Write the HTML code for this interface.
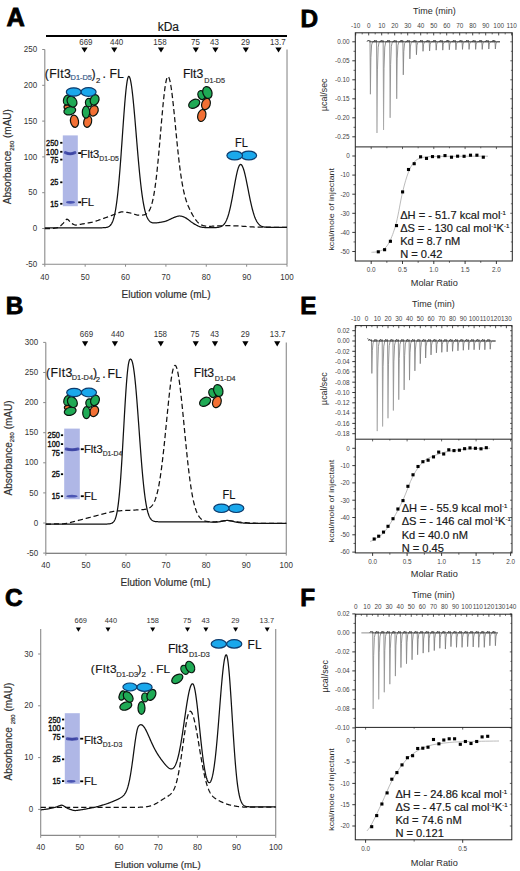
<!DOCTYPE html>
<html><head><meta charset="utf-8"><style>
html,body{margin:0;padding:0;background:#fff;}
svg{display:block;font-family:"Liberation Sans", sans-serif;}
svg text{stroke:#2a2a2a;stroke-width:0.18px;}
svg text.n{stroke:none;}
</style></head><body>
<svg width="520" height="871" viewBox="0 0 520 871">
<rect width="520" height="871" fill="#fff"/>
<line x1="44.8" y1="49.5" x2="44.8" y2="264.3" stroke="#8a8a8a" stroke-width="1.1" />
<line x1="44.8" y1="264.3" x2="287.02" y2="264.3" stroke="#8a8a8a" stroke-width="1.1" />
<line x1="287.02" y1="49.5" x2="287.02" y2="264.3" stroke="#8a8a8a" stroke-width="1.1" />
<line x1="42.2" y1="264.3" x2="44.8" y2="264.3" stroke="#8a8a8a" stroke-width="1" />
<text transform="translate(37.2,266.9) scale(0.92,1)" font-size="8.7" text-anchor="end" fill="#333" class="n">-50</text>
<line x1="42.2" y1="228.5" x2="44.8" y2="228.5" stroke="#8a8a8a" stroke-width="1" />
<text transform="translate(37.2,231.1) scale(0.92,1)" font-size="8.7" text-anchor="end" fill="#333" class="n">0</text>
<line x1="42.2" y1="192.7" x2="44.8" y2="192.7" stroke="#8a8a8a" stroke-width="1" />
<text transform="translate(37.2,195.3) scale(0.92,1)" font-size="8.7" text-anchor="end" fill="#333" class="n">50</text>
<line x1="42.2" y1="156.9" x2="44.8" y2="156.9" stroke="#8a8a8a" stroke-width="1" />
<text transform="translate(37.2,159.5) scale(0.92,1)" font-size="8.7" text-anchor="end" fill="#333" class="n">100</text>
<line x1="42.2" y1="121.1" x2="44.8" y2="121.1" stroke="#8a8a8a" stroke-width="1" />
<text transform="translate(37.2,123.7) scale(0.92,1)" font-size="8.7" text-anchor="end" fill="#333" class="n">150</text>
<line x1="42.2" y1="85.3" x2="44.8" y2="85.3" stroke="#8a8a8a" stroke-width="1" />
<text transform="translate(37.2,87.9) scale(0.92,1)" font-size="8.7" text-anchor="end" fill="#333" class="n">200</text>
<line x1="42.2" y1="49.5" x2="44.8" y2="49.5" stroke="#8a8a8a" stroke-width="1" />
<text transform="translate(37.2,52.1) scale(0.92,1)" font-size="8.7" text-anchor="end" fill="#333" class="n">250</text>
<line x1="44.8" y1="264.3" x2="44.8" y2="266.7" stroke="#8a8a8a" stroke-width="1" />
<text transform="translate(44.8,279.6) scale(0.92,1)" font-size="8.7" text-anchor="middle" fill="#333" class="n">40</text>
<line x1="85.17" y1="264.3" x2="85.17" y2="266.7" stroke="#8a8a8a" stroke-width="1" />
<text transform="translate(85.17,279.6) scale(0.92,1)" font-size="8.7" text-anchor="middle" fill="#333" class="n">50</text>
<line x1="125.54" y1="264.3" x2="125.54" y2="266.7" stroke="#8a8a8a" stroke-width="1" />
<text transform="translate(125.54,279.6) scale(0.92,1)" font-size="8.7" text-anchor="middle" fill="#333" class="n">60</text>
<line x1="165.91" y1="264.3" x2="165.91" y2="266.7" stroke="#8a8a8a" stroke-width="1" />
<text transform="translate(165.91,279.6) scale(0.92,1)" font-size="8.7" text-anchor="middle" fill="#333" class="n">70</text>
<line x1="206.28" y1="264.3" x2="206.28" y2="266.7" stroke="#8a8a8a" stroke-width="1" />
<text transform="translate(206.28,279.6) scale(0.92,1)" font-size="8.7" text-anchor="middle" fill="#333" class="n">80</text>
<line x1="246.65" y1="264.3" x2="246.65" y2="266.7" stroke="#8a8a8a" stroke-width="1" />
<text transform="translate(246.65,279.6) scale(0.92,1)" font-size="8.7" text-anchor="middle" fill="#333" class="n">90</text>
<line x1="287.02" y1="264.3" x2="287.02" y2="266.7" stroke="#8a8a8a" stroke-width="1" />
<text transform="translate(287.02,279.6) scale(0.92,1)" font-size="8.7" text-anchor="middle" fill="#333" class="n">100</text>
<text transform="translate(85.9,45) scale(0.93,1)" font-size="8.6" text-anchor="middle" fill="#333" class="n">669</text>
<path d="M81.4,47.4 L87.6,47.4 L84.5,52.5 Z" fill="#000"/>
<text transform="translate(116.6,45) scale(0.93,1)" font-size="8.6" text-anchor="middle" fill="#333" class="n">440</text>
<path d="M111.2,47.4 L117.4,47.4 L114.3,52.5 Z" fill="#000"/>
<text transform="translate(160,45) scale(0.93,1)" font-size="8.6" text-anchor="middle" fill="#333" class="n">158</text>
<path d="M157.9,47.4 L164.1,47.4 L161,52.5 Z" fill="#000"/>
<text transform="translate(195.5,45) scale(0.93,1)" font-size="8.6" text-anchor="middle" fill="#333" class="n">75</text>
<path d="M192.7,47.4 L198.9,47.4 L195.8,52.5 Z" fill="#000"/>
<text transform="translate(214.5,45) scale(0.93,1)" font-size="8.6" text-anchor="middle" fill="#333" class="n">43</text>
<path d="M212.3,47.4 L218.5,47.4 L215.4,52.5 Z" fill="#000"/>
<text transform="translate(245.5,45) scale(0.93,1)" font-size="8.6" text-anchor="middle" fill="#333" class="n">29</text>
<path d="M242.7,47.4 L248.9,47.4 L245.8,52.5 Z" fill="#000"/>
<text transform="translate(277.8,45) scale(0.93,1)" font-size="8.6" text-anchor="middle" fill="#333" class="n">13.7</text>
<path d="M275.4,47.4 L281.6,47.4 L278.5,52.5 Z" fill="#000"/>
<path d="M44.8,227.78 L45.2,227.78 L45.61,227.78 L46.01,227.78 L46.41,227.78 L46.82,227.78 L47.22,227.78 L47.63,227.78 L48.03,227.78 L48.43,227.78 L48.84,227.78 L49.24,227.78 L49.64,227.78 L50.05,227.78 L50.45,227.78 L50.86,227.78 L51.26,227.78 L51.66,227.78 L52.07,227.78 L52.47,227.78 L52.87,227.78 L53.28,227.78 L53.68,227.78 L54.09,227.78 L54.49,227.78 L54.89,227.78 L55.3,227.78 L55.7,227.78 L56.1,227.78 L56.51,227.78 L56.91,227.78 L57.31,227.78 L57.72,227.78 L58.12,227.78 L58.53,227.78 L58.93,227.78 L59.33,227.78 L59.74,227.78 L60.14,227.78 L60.54,227.78 L60.95,227.78 L61.35,227.78 L61.76,227.78 L62.16,227.78 L62.56,227.78 L62.97,227.78 L63.37,227.78 L63.77,227.78 L64.18,227.78 L64.58,227.78 L64.99,227.78 L65.39,227.78 L65.79,227.78 L66.2,227.78 L66.6,227.78 L67,227.78 L67.41,227.78 L67.81,227.78 L68.21,227.78 L68.62,227.78 L69.02,227.78 L69.43,227.78 L69.83,227.78 L70.23,227.78 L70.64,227.78 L71.04,227.78 L71.44,227.78 L71.85,227.78 L72.25,227.78 L72.66,227.78 L73.06,227.78 L73.46,227.78 L73.87,227.78 L74.27,227.78 L74.67,227.78 L75.08,227.78 L75.48,227.78 L75.88,227.78 L76.29,227.78 L76.69,227.78 L77.1,227.78 L77.5,227.78 L77.9,227.78 L78.31,227.78 L78.71,227.78 L79.11,227.78 L79.52,227.78 L79.92,227.78 L80.33,227.78 L80.73,227.78 L81.13,227.78 L81.54,227.78 L81.94,227.78 L82.34,227.78 L82.75,227.78 L83.15,227.78 L83.56,227.78 L83.96,227.78 L84.36,227.78 L84.77,227.78 L85.17,227.78 L85.57,227.78 L85.98,227.78 L86.38,227.78 L86.78,227.78 L87.19,227.78 L87.59,227.78 L88,227.78 L88.4,227.78 L88.8,227.78 L89.21,227.78 L89.61,227.78 L90.01,227.78 L90.42,227.78 L90.82,227.78 L91.23,227.78 L91.63,227.78 L92.03,227.78 L92.44,227.78 L92.84,227.78 L93.24,227.78 L93.65,227.78 L94.05,227.78 L94.46,227.78 L94.86,227.78 L95.26,227.78 L95.67,227.78 L96.07,227.78 L96.47,227.78 L96.88,227.78 L97.28,227.78 L97.68,227.78 L98.09,227.78 L98.49,227.78 L98.9,227.78 L99.3,227.78 L99.7,227.78 L100.11,227.78 L100.51,227.78 L100.91,227.77 L101.32,227.77 L101.72,227.76 L102.13,227.76 L102.53,227.75 L102.93,227.74 L103.34,227.73 L103.74,227.71 L104.14,227.69 L104.55,227.66 L104.95,227.62 L105.36,227.58 L105.76,227.53 L106.16,227.47 L106.57,227.39 L106.97,227.29 L107.37,227.18 L107.78,227.04 L108.18,226.88 L108.58,226.68 L108.99,226.45 L109.39,226.17 L109.8,225.85 L110.2,225.47 L110.6,225.02 L111.01,224.5 L111.41,223.9 L111.81,223.2 L112.22,222.39 L112.62,221.47 L113.03,220.41 L113.43,219.21 L113.83,217.84 L114.24,216.3 L114.64,214.58 L115.04,212.65 L115.45,210.5 L115.85,208.13 L116.25,205.51 L116.66,202.64 L117.06,199.52 L117.47,196.12 L117.87,192.46 L118.27,188.53 L118.68,184.33 L119.08,179.87 L119.48,175.17 L119.89,170.23 L120.29,165.07 L120.7,159.73 L121.1,154.22 L121.5,148.58 L121.91,142.85 L122.31,137.06 L122.71,131.27 L123.12,125.51 L123.52,119.84 L123.93,114.31 L124.33,108.97 L124.73,103.87 L125.14,99.07 L125.54,94.62 L125.94,90.56 L126.35,86.94 L126.75,83.79 L127.15,81.16 L127.56,79.08 L127.96,77.57 L128.37,76.64 L128.77,76.31 L129.17,76.51 L129.58,77.14 L129.98,78.2 L130.38,79.68 L130.79,81.57 L131.19,83.85 L131.6,86.51 L132,89.52 L132.4,92.85 L132.81,96.47 L133.21,100.37 L133.61,104.5 L134.02,108.84 L134.42,113.35 L134.83,118 L135.23,122.76 L135.63,127.59 L136.04,132.47 L136.44,137.37 L136.84,142.24 L137.25,147.08 L137.65,151.85 L138.05,156.53 L138.46,161.1 L138.86,165.54 L139.27,169.84 L139.67,173.97 L140.07,177.93 L140.48,181.7 L140.88,185.29 L141.28,188.68 L141.69,191.88 L142.09,194.88 L142.5,197.67 L142.9,200.28 L143.3,202.69 L143.71,204.91 L144.11,206.96 L144.51,208.83 L144.92,210.54 L145.32,212.09 L145.73,213.49 L146.13,214.76 L146.53,215.89 L146.94,216.9 L147.34,217.8 L147.74,218.6 L148.15,219.3 L148.55,219.91 L148.95,220.45 L149.36,220.91 L149.76,221.31 L150.17,221.65 L150.57,221.94 L150.97,222.18 L151.38,222.38 L151.78,222.54 L152.18,222.67 L152.59,222.77 L152.99,222.85 L153.4,222.9 L153.8,222.94 L154.2,222.96 L154.61,222.97 L155.01,222.96 L155.41,222.94 L155.82,222.92 L156.22,222.88 L156.62,222.84 L157.03,222.8 L157.43,222.75 L157.84,222.69 L158.24,222.64 L158.64,222.58 L159.05,222.52 L159.45,222.45 L159.85,222.39 L160.26,222.32 L160.66,222.25 L161.07,222.18 L161.47,222.11 L161.87,222.04 L162.28,221.97 L162.68,221.89 L163.08,221.81 L163.49,221.73 L163.89,221.64 L164.3,221.55 L164.7,221.45 L165.1,221.34 L165.51,221.22 L165.91,221.09 L166.31,220.95 L166.72,220.8 L167.12,220.64 L167.52,220.47 L167.93,220.29 L168.33,220.11 L168.74,219.93 L169.14,219.74 L169.54,219.54 L169.95,219.35 L170.35,219.16 L170.75,218.97 L171.16,218.77 L171.56,218.59 L171.97,218.4 L172.37,218.22 L172.77,218.04 L173.18,217.86 L173.58,217.69 L173.98,217.52 L174.39,217.36 L174.79,217.2 L175.2,217.05 L175.6,216.9 L176,216.76 L176.41,216.62 L176.81,216.49 L177.21,216.37 L177.62,216.26 L178.02,216.17 L178.42,216.09 L178.83,216.03 L179.23,216 L179.64,215.99 L180.04,216 L180.44,216.03 L180.85,216.09 L181.25,216.17 L181.65,216.26 L182.06,216.37 L182.46,216.5 L182.87,216.63 L183.27,216.78 L183.67,216.94 L184.08,217.11 L184.48,217.28 L184.88,217.48 L185.29,217.68 L185.69,217.9 L186.09,218.13 L186.5,218.38 L186.9,218.64 L187.31,218.92 L187.71,219.21 L188.11,219.5 L188.52,219.81 L188.92,220.12 L189.32,220.43 L189.73,220.75 L190.13,221.06 L190.54,221.38 L190.94,221.68 L191.34,221.98 L191.75,222.27 L192.15,222.56 L192.55,222.83 L192.96,223.1 L193.36,223.36 L193.77,223.61 L194.17,223.86 L194.57,224.1 L194.98,224.33 L195.38,224.56 L195.78,224.79 L196.19,225.02 L196.59,225.24 L196.99,225.45 L197.4,225.66 L197.8,225.86 L198.21,226.05 L198.61,226.23 L199.01,226.4 L199.42,226.56 L199.82,226.7 L200.22,226.82 L200.63,226.93 L201.03,227.03 L201.44,227.12 L201.84,227.19 L202.24,227.26 L202.65,227.31 L203.05,227.36 L203.45,227.41 L203.86,227.45 L204.26,227.49 L204.67,227.52 L205.07,227.56 L205.47,227.58 L205.88,227.61 L206.28,227.63 L206.68,227.65 L207.09,227.67 L207.49,227.68 L207.89,227.69 L208.3,227.69 L208.7,227.7 L209.11,227.7 L209.51,227.71 L209.91,227.71 L210.32,227.71 L210.72,227.71 L211.12,227.71 L211.53,227.7 L211.93,227.7 L212.34,227.7 L212.74,227.69 L213.14,227.68 L213.55,227.67 L213.95,227.66 L214.35,227.65 L214.76,227.63 L215.16,227.61 L215.57,227.59 L215.97,227.56 L216.37,227.53 L216.78,227.49 L217.18,227.45 L217.58,227.4 L217.99,227.34 L218.39,227.27 L218.79,227.2 L219.2,227.11 L219.6,227.01 L220.01,226.89 L220.41,226.75 L220.81,226.6 L221.22,226.42 L221.62,226.21 L222.02,225.98 L222.43,225.71 L222.83,225.41 L223.24,225.06 L223.64,224.67 L224.04,224.23 L224.45,223.73 L224.85,223.17 L225.25,222.55 L225.66,221.85 L226.06,221.08 L226.46,220.23 L226.87,219.3 L227.27,218.27 L227.68,217.16 L228.08,215.94 L228.48,214.63 L228.89,213.22 L229.29,211.71 L229.69,210.11 L230.1,208.4 L230.5,206.6 L230.91,204.71 L231.31,202.74 L231.71,200.69 L232.12,198.58 L232.52,196.41 L232.92,194.19 L233.33,191.93 L233.73,189.66 L234.14,187.39 L234.54,185.13 L234.94,182.9 L235.35,180.72 L235.75,178.61 L236.15,176.57 L236.56,174.65 L236.96,172.84 L237.36,171.17 L237.77,169.66 L238.17,168.31 L238.58,167.15 L238.98,166.18 L239.38,165.41 L239.79,164.86 L240.19,164.53 L240.59,164.42 L241,164.51 L241.4,164.79 L241.81,165.24 L242.21,165.87 L242.61,166.68 L243.02,167.65 L243.42,168.77 L243.82,170.04 L244.23,171.45 L244.63,172.98 L245.04,174.63 L245.44,176.37 L245.84,178.2 L246.25,180.11 L246.65,182.07 L247.05,184.08 L247.46,186.12 L247.86,188.18 L248.26,190.24 L248.67,192.3 L249.07,194.34 L249.48,196.36 L249.88,198.33 L250.28,200.27 L250.69,202.14 L251.09,203.96 L251.49,205.71 L251.9,207.38 L252.3,208.98 L252.71,210.51 L253.11,211.95 L253.51,213.31 L253.92,214.59 L254.32,215.79 L254.72,216.9 L255.13,217.94 L255.53,218.9 L255.94,219.78 L256.34,220.6 L256.74,221.34 L257.15,222.02 L257.55,222.64 L257.95,223.2 L258.36,223.7 L258.76,224.16 L259.16,224.56 L259.57,224.93 L259.97,225.25 L260.38,225.54 L260.78,225.79 L261.18,226.02 L261.59,226.21 L261.99,226.39 L262.39,226.54 L262.8,226.67 L263.2,226.78 L263.61,226.88 L264.01,226.96 L264.41,227.04 L264.82,227.1 L265.22,227.15 L265.62,227.2 L266.03,227.23 L266.43,227.27 L266.83,227.29 L267.24,227.32 L267.64,227.34 L268.05,227.35 L268.45,227.37 L268.85,227.38 L269.26,227.39 L269.66,227.39 L270.06,227.4 L270.47,227.4 L270.87,227.41 L271.28,227.41 L271.68,227.42 L272.08,227.42 L272.49,227.42 L272.89,227.42 L273.29,227.42 L273.7,227.42 L274.1,227.42 L274.51,227.42 L274.91,227.42 L275.31,227.42 L275.72,227.43 L276.12,227.43 L276.52,227.43 L276.93,227.43 L277.33,227.43 L277.73,227.43 L278.14,227.43 L278.54,227.43 L278.95,227.43 L279.35,227.43 L279.75,227.43 L280.16,227.43 L280.56,227.43 L280.96,227.43 L281.37,227.43 L281.77,227.43 L282.18,227.43 L282.58,227.43 L282.98,227.43 L283.39,227.43 L283.79,227.43 L284.19,227.43 L284.6,227.43 L285,227.43 L285.41,227.43 L285.81,227.43 L286.21,227.43 L286.62,227.43 L287.02,227.43" stroke="#111" stroke-width="1.25" fill="none" stroke-linejoin="round"/>
<path d="M44.8,228.5 L45.2,228.5 L45.61,228.5 L46.01,228.5 L46.41,228.5 L46.82,228.5 L47.22,228.5 L47.63,228.5 L48.03,228.5 L48.43,228.5 L48.84,228.5 L49.24,228.5 L49.64,228.5 L50.05,228.5 L50.45,228.5 L50.86,228.5 L51.26,228.5 L51.66,228.49 L52.07,228.48 L52.47,228.46 L52.87,228.43 L53.28,228.39 L53.68,228.34 L54.09,228.28 L54.49,228.21 L54.89,228.14 L55.3,228.07 L55.7,228 L56.1,227.93 L56.51,227.85 L56.91,227.78 L57.31,227.69 L57.72,227.6 L58.12,227.47 L58.53,227.32 L58.93,227.11 L59.33,226.86 L59.74,226.56 L60.14,226.22 L60.54,225.86 L60.95,225.48 L61.35,225.1 L61.76,224.71 L62.16,224.31 L62.56,223.91 L62.97,223.49 L63.37,223.05 L63.77,222.58 L64.18,222.08 L64.58,221.56 L64.99,221.02 L65.39,220.5 L65.79,220.01 L66.2,219.61 L66.6,219.33 L67,219.21 L67.41,219.26 L67.81,219.48 L68.21,219.82 L68.62,220.24 L69.02,220.71 L69.43,221.19 L69.83,221.65 L70.23,222.09 L70.64,222.48 L71.04,222.83 L71.44,223.14 L71.85,223.42 L72.25,223.67 L72.66,223.9 L73.06,224.13 L73.46,224.35 L73.87,224.55 L74.27,224.73 L74.67,224.88 L75.08,224.98 L75.48,225.03 L75.88,225.05 L76.29,225.02 L76.69,224.97 L77.1,224.91 L77.5,224.85 L77.9,224.78 L78.31,224.71 L78.71,224.63 L79.11,224.56 L79.52,224.49 L79.92,224.42 L80.33,224.35 L80.73,224.28 L81.13,224.2 L81.54,224.13 L81.94,224.06 L82.34,223.99 L82.75,223.92 L83.15,223.85 L83.56,223.77 L83.96,223.7 L84.36,223.63 L84.77,223.56 L85.17,223.49 L85.57,223.42 L85.98,223.34 L86.38,223.27 L86.78,223.2 L87.19,223.13 L87.59,223.06 L88,222.99 L88.4,222.92 L88.8,222.84 L89.21,222.77 L89.61,222.7 L90.01,222.63 L90.42,222.56 L90.82,222.49 L91.23,222.41 L91.63,222.34 L92.03,222.26 L92.44,222.18 L92.84,222.09 L93.24,221.98 L93.65,221.87 L94.05,221.75 L94.46,221.62 L94.86,221.48 L95.26,221.34 L95.67,221.2 L96.07,221.05 L96.47,220.91 L96.88,220.77 L97.28,220.62 L97.68,220.48 L98.09,220.34 L98.49,220.19 L98.9,220.05 L99.3,219.91 L99.7,219.76 L100.11,219.62 L100.51,219.48 L100.91,219.34 L101.32,219.19 L101.72,219.05 L102.13,218.91 L102.53,218.76 L102.93,218.62 L103.34,218.48 L103.74,218.33 L104.14,218.19 L104.55,218.05 L104.95,217.9 L105.36,217.76 L105.76,217.62 L106.16,217.47 L106.57,217.33 L106.97,217.19 L107.37,217.04 L107.78,216.9 L108.18,216.76 L108.58,216.61 L108.99,216.46 L109.39,216.32 L109.8,216.17 L110.2,216.01 L110.6,215.86 L111.01,215.71 L111.41,215.55 L111.81,215.4 L112.22,215.24 L112.62,215.09 L113.03,214.93 L113.43,214.78 L113.83,214.62 L114.24,214.47 L114.64,214.31 L115.04,214.16 L115.45,214 L115.85,213.85 L116.25,213.69 L116.66,213.54 L117.06,213.38 L117.47,213.23 L117.87,213.07 L118.27,212.92 L118.68,212.76 L119.08,212.61 L119.48,212.45 L119.89,212.31 L120.29,212.17 L120.7,212.05 L121.1,211.95 L121.5,211.88 L121.91,211.85 L122.31,211.84 L122.71,211.86 L123.12,211.9 L123.52,211.95 L123.93,212 L124.33,212.05 L124.73,212.1 L125.14,212.16 L125.54,212.21 L125.94,212.26 L126.35,212.32 L126.75,212.37 L127.15,212.43 L127.56,212.48 L127.96,212.54 L128.37,212.6 L128.77,212.66 L129.17,212.74 L129.58,212.82 L129.98,212.91 L130.38,213.02 L130.79,213.13 L131.19,213.25 L131.6,213.38 L132,213.5 L132.4,213.62 L132.81,213.75 L133.21,213.87 L133.61,214 L134.02,214.12 L134.42,214.25 L134.83,214.37 L135.23,214.5 L135.63,214.62 L136.04,214.74 L136.44,214.85 L136.84,214.96 L137.25,215.05 L137.65,215.12 L138.05,215.17 L138.46,215.21 L138.86,215.23 L139.27,215.24 L139.67,215.24 L140.07,215.24 L140.48,215.23 L140.88,215.22 L141.28,215.2 L141.69,215.18 L142.09,215.15 L142.5,215.1 L142.9,215.05 L143.3,214.99 L143.71,214.91 L144.11,214.82 L144.51,214.71 L144.92,214.58 L145.32,214.42 L145.73,214.23 L146.13,214.01 L146.53,213.75 L146.94,213.45 L147.34,213.1 L147.74,212.7 L148.15,212.23 L148.55,211.7 L148.95,211.1 L149.36,210.42 L149.76,209.65 L150.17,208.78 L150.57,207.81 L150.97,206.72 L151.38,205.51 L151.78,204.17 L152.18,202.68 L152.59,201.04 L152.99,199.24 L153.4,197.27 L153.8,195.13 L154.2,192.8 L154.61,190.29 L155.01,187.58 L155.41,184.68 L155.82,181.59 L156.22,178.3 L156.62,174.82 L157.03,171.15 L157.43,167.31 L157.84,163.29 L158.24,159.11 L158.64,154.79 L159.05,150.34 L159.45,145.78 L159.85,141.13 L160.26,136.43 L160.66,131.69 L161.07,126.96 L161.47,122.26 L161.87,117.64 L162.28,113.12 L162.68,108.74 L163.08,104.53 L163.49,100.52 L163.89,96.72 L164.3,93.17 L164.7,89.9 L165.1,86.94 L165.51,84.31 L165.91,82.03 L166.31,80.13 L166.72,78.62 L167.12,77.52 L167.52,76.83 L167.93,76.57 L168.33,76.72 L168.74,77.24 L169.14,78.11 L169.54,79.33 L169.95,80.9 L170.35,82.8 L170.75,85.01 L171.16,87.52 L171.56,90.3 L171.97,93.33 L172.37,96.6 L172.77,100.06 L173.18,103.71 L173.58,107.5 L173.98,111.43 L174.39,115.45 L174.79,119.54 L175.2,123.69 L175.6,127.85 L176,132.02 L176.41,136.16 L176.81,140.26 L177.21,144.28 L177.62,148.22 L178.02,152.04 L178.42,155.74 L178.83,159.31 L179.23,162.74 L179.64,166.02 L180.04,169.16 L180.44,172.15 L180.85,175 L181.25,177.7 L181.65,180.26 L182.06,182.67 L182.46,184.95 L182.87,187.1 L183.27,189.12 L183.67,191.02 L184.08,192.81 L184.48,194.49 L184.88,196.08 L185.29,197.56 L185.69,198.95 L186.09,200.26 L186.5,201.48 L186.9,202.64 L187.31,203.72 L187.71,204.76 L188.11,205.75 L188.52,206.7 L188.92,207.61 L189.32,208.5 L189.73,209.36 L190.13,210.2 L190.54,211.02 L190.94,211.81 L191.34,212.59 L191.75,213.35 L192.15,214.09 L192.55,214.82 L192.96,215.52 L193.36,216.21 L193.77,216.87 L194.17,217.52 L194.57,218.14 L194.98,218.74 L195.38,219.32 L195.78,219.88 L196.19,220.41 L196.59,220.91 L196.99,221.39 L197.4,221.85 L197.8,222.27 L198.21,222.67 L198.61,223.03 L199.01,223.37 L199.42,223.69 L199.82,223.97 L200.22,224.24 L200.63,224.48 L201.03,224.7 L201.44,224.9 L201.84,225.08 L202.24,225.25 L202.65,225.39 L203.05,225.52 L203.45,225.64 L203.86,225.74 L204.26,225.84 L204.67,225.91 L205.07,225.98 L205.47,226.04 L205.88,226.09 L206.28,226.14 L206.68,226.17 L207.09,226.2 L207.49,226.23 L207.89,226.25 L208.3,226.26 L208.7,226.27 L209.11,226.28 L209.51,226.29 L209.91,226.29 L210.32,226.28 L210.72,226.27 L211.12,226.26 L211.53,226.25 L211.93,226.24 L212.34,226.22 L212.74,226.2 L213.14,226.19 L213.55,226.17 L213.95,226.15 L214.35,226.13 L214.76,226.11 L215.16,226.09 L215.57,226.07 L215.97,226.05 L216.37,226.03 L216.78,226.01 L217.18,225.99 L217.58,225.96 L217.99,225.94 L218.39,225.92 L218.79,225.9 L219.2,225.88 L219.6,225.86 L220.01,225.84 L220.41,225.81 L220.81,225.79 L221.22,225.77 L221.62,225.75 L222.02,225.73 L222.43,225.71 L222.83,225.69 L223.24,225.66 L223.64,225.64 L224.04,225.62 L224.45,225.6 L224.85,225.58 L225.25,225.56 L225.66,225.55 L226.06,225.54 L226.46,225.53 L226.87,225.53 L227.27,225.54 L227.68,225.55 L228.08,225.56 L228.48,225.58 L228.89,225.59 L229.29,225.61 L229.69,225.63 L230.1,225.64 L230.5,225.66 L230.91,225.68 L231.31,225.69 L231.71,225.71 L232.12,225.73 L232.52,225.74 L232.92,225.76 L233.33,225.78 L233.73,225.79 L234.14,225.81 L234.54,225.83 L234.94,225.84 L235.35,225.86 L235.75,225.88 L236.15,225.89 L236.56,225.91 L236.96,225.93 L237.36,225.95 L237.77,225.96 L238.17,225.98 L238.58,226 L238.98,226.03 L239.38,226.05 L239.79,226.08 L240.19,226.1 L240.59,226.13 L241,226.16 L241.4,226.18 L241.81,226.21 L242.21,226.24 L242.61,226.26 L243.02,226.29 L243.42,226.32 L243.82,226.34 L244.23,226.37 L244.63,226.4 L245.04,226.42 L245.44,226.45 L245.84,226.48 L246.25,226.5 L246.65,226.53 L247.05,226.56 L247.46,226.58 L247.86,226.61 L248.26,226.64 L248.67,226.67 L249.07,226.69 L249.48,226.72 L249.88,226.75 L250.28,226.77 L250.69,226.8 L251.09,226.83 L251.49,226.85 L251.9,226.88 L252.3,226.91 L252.71,226.93 L253.11,226.96 L253.51,226.98 L253.92,227.01 L254.32,227.03 L254.72,227.05 L255.13,227.06 L255.53,227.07 L255.94,227.08 L256.34,227.08 L256.74,227.09 L257.15,227.09 L257.55,227.1 L257.95,227.1 L258.36,227.11 L258.76,227.11 L259.16,227.12 L259.57,227.12 L259.97,227.13 L260.38,227.13 L260.78,227.14 L261.18,227.14 L261.59,227.14 L261.99,227.15 L262.39,227.15 L262.8,227.16 L263.2,227.16 L263.61,227.17 L264.01,227.17 L264.41,227.18 L264.82,227.18 L265.22,227.18 L265.62,227.19 L266.03,227.19 L266.43,227.2 L266.83,227.2 L267.24,227.21 L267.64,227.21 L268.05,227.22 L268.45,227.22 L268.85,227.22 L269.26,227.23 L269.66,227.23 L270.06,227.24 L270.47,227.24 L270.87,227.25 L271.28,227.25 L271.68,227.26 L272.08,227.26 L272.49,227.26 L272.89,227.27 L273.29,227.27 L273.7,227.28 L274.1,227.28 L274.51,227.29 L274.91,227.29 L275.31,227.3 L275.72,227.3 L276.12,227.31 L276.52,227.31 L276.93,227.31 L277.33,227.32 L277.73,227.32 L278.14,227.33 L278.54,227.33 L278.95,227.34 L279.35,227.34 L279.75,227.35 L280.16,227.35 L280.56,227.35 L280.96,227.36 L281.37,227.36 L281.77,227.37 L282.18,227.37 L282.58,227.38 L282.98,227.38 L283.39,227.39 L283.79,227.39 L284.19,227.39 L284.6,227.4 L285,227.4 L285.41,227.41 L285.81,227.41 L286.21,227.42 L286.62,227.42 L287.02,227.42" stroke="#111" stroke-width="1.25" fill="none" stroke-dasharray="5.2 2.9" stroke-linejoin="round"/>
<line x1="45.8" y1="342.4" x2="45.8" y2="553.2" stroke="#8a8a8a" stroke-width="1.1" />
<line x1="45.8" y1="553.2" x2="286.28" y2="553.2" stroke="#5a5a5a" stroke-width="1.1" />
<line x1="286.28" y1="342.4" x2="286.28" y2="553.2" stroke="#8a8a8a" stroke-width="1.1" />
<line x1="43.2" y1="553.1" x2="45.8" y2="553.1" stroke="#8a8a8a" stroke-width="1" />
<text transform="translate(38.2,555.7) scale(0.92,1)" font-size="8.7" text-anchor="end" fill="#333" class="n">-50</text>
<line x1="43.2" y1="523" x2="45.8" y2="523" stroke="#8a8a8a" stroke-width="1" />
<text transform="translate(38.2,525.6) scale(0.92,1)" font-size="8.7" text-anchor="end" fill="#333" class="n">0</text>
<line x1="43.2" y1="492.9" x2="45.8" y2="492.9" stroke="#8a8a8a" stroke-width="1" />
<text transform="translate(38.2,495.5) scale(0.92,1)" font-size="8.7" text-anchor="end" fill="#333" class="n">50</text>
<line x1="43.2" y1="462.8" x2="45.8" y2="462.8" stroke="#8a8a8a" stroke-width="1" />
<text transform="translate(38.2,465.4) scale(0.92,1)" font-size="8.7" text-anchor="end" fill="#333" class="n">100</text>
<line x1="43.2" y1="432.7" x2="45.8" y2="432.7" stroke="#8a8a8a" stroke-width="1" />
<text transform="translate(38.2,435.3) scale(0.92,1)" font-size="8.7" text-anchor="end" fill="#333" class="n">150</text>
<line x1="43.2" y1="402.6" x2="45.8" y2="402.6" stroke="#8a8a8a" stroke-width="1" />
<text transform="translate(38.2,405.2) scale(0.92,1)" font-size="8.7" text-anchor="end" fill="#333" class="n">200</text>
<line x1="43.2" y1="372.5" x2="45.8" y2="372.5" stroke="#8a8a8a" stroke-width="1" />
<text transform="translate(38.2,375.1) scale(0.92,1)" font-size="8.7" text-anchor="end" fill="#333" class="n">250</text>
<line x1="43.2" y1="342.4" x2="45.8" y2="342.4" stroke="#8a8a8a" stroke-width="1" />
<text transform="translate(38.2,345) scale(0.92,1)" font-size="8.7" text-anchor="end" fill="#333" class="n">300</text>
<line x1="45.8" y1="553.2" x2="45.8" y2="555.6" stroke="#8a8a8a" stroke-width="1" />
<text transform="translate(45.8,568.2) scale(0.92,1)" font-size="8.7" text-anchor="middle" fill="#333" class="n">40</text>
<line x1="85.88" y1="553.2" x2="85.88" y2="555.6" stroke="#8a8a8a" stroke-width="1" />
<text transform="translate(85.88,568.2) scale(0.92,1)" font-size="8.7" text-anchor="middle" fill="#333" class="n">50</text>
<line x1="125.96" y1="553.2" x2="125.96" y2="555.6" stroke="#8a8a8a" stroke-width="1" />
<text transform="translate(125.96,568.2) scale(0.92,1)" font-size="8.7" text-anchor="middle" fill="#333" class="n">60</text>
<line x1="166.04" y1="553.2" x2="166.04" y2="555.6" stroke="#8a8a8a" stroke-width="1" />
<text transform="translate(166.04,568.2) scale(0.92,1)" font-size="8.7" text-anchor="middle" fill="#333" class="n">70</text>
<line x1="206.12" y1="553.2" x2="206.12" y2="555.6" stroke="#8a8a8a" stroke-width="1" />
<text transform="translate(206.12,568.2) scale(0.92,1)" font-size="8.7" text-anchor="middle" fill="#333" class="n">80</text>
<line x1="246.2" y1="553.2" x2="246.2" y2="555.6" stroke="#8a8a8a" stroke-width="1" />
<text transform="translate(246.2,568.2) scale(0.92,1)" font-size="8.7" text-anchor="middle" fill="#333" class="n">90</text>
<line x1="286.28" y1="553.2" x2="286.28" y2="555.6" stroke="#8a8a8a" stroke-width="1" />
<text transform="translate(286.28,568.2) scale(0.92,1)" font-size="8.7" text-anchor="middle" fill="#333" class="n">100</text>
<text transform="translate(86.5,336.8) scale(0.93,1)" font-size="8.6" text-anchor="middle" fill="#333" class="n">669</text>
<path d="M82,341.3 L88.2,341.3 L85.1,346.4 Z" fill="#000"/>
<text transform="translate(117.6,336.8) scale(0.93,1)" font-size="8.6" text-anchor="middle" fill="#333" class="n">440</text>
<path d="M111.8,341.3 L118,341.3 L114.9,346.4 Z" fill="#000"/>
<text transform="translate(160.4,336.8) scale(0.93,1)" font-size="8.6" text-anchor="middle" fill="#333" class="n">158</text>
<path d="M157.7,341.3 L163.9,341.3 L160.8,346.4 Z" fill="#000"/>
<text transform="translate(195,336.8) scale(0.93,1)" font-size="8.6" text-anchor="middle" fill="#333" class="n">75</text>
<path d="M192.6,341.3 L198.8,341.3 L195.7,346.4 Z" fill="#000"/>
<text transform="translate(214.6,336.8) scale(0.93,1)" font-size="8.6" text-anchor="middle" fill="#333" class="n">43</text>
<path d="M211.9,341.3 L218.1,341.3 L215,346.4 Z" fill="#000"/>
<text transform="translate(245.3,336.8) scale(0.93,1)" font-size="8.6" text-anchor="middle" fill="#333" class="n">29</text>
<path d="M242.3,341.3 L248.5,341.3 L245.4,346.4 Z" fill="#000"/>
<text transform="translate(277.6,336.8) scale(0.93,1)" font-size="8.6" text-anchor="middle" fill="#333" class="n">13.7</text>
<path d="M274.1,341.3 L280.3,341.3 L277.2,346.4 Z" fill="#000"/>
<path d="M45.8,524.2 L46.2,524.2 L46.6,524.2 L47,524.2 L47.4,524.2 L47.8,524.2 L48.2,524.2 L48.61,524.2 L49.01,524.2 L49.41,524.2 L49.81,524.2 L50.21,524.2 L50.61,524.2 L51.01,524.2 L51.41,524.2 L51.81,524.2 L52.21,524.2 L52.61,524.2 L53.01,524.2 L53.42,524.2 L53.82,524.2 L54.22,524.2 L54.62,524.2 L55.02,524.2 L55.42,524.2 L55.82,524.2 L56.22,524.2 L56.62,524.2 L57.02,524.2 L57.42,524.2 L57.82,524.2 L58.22,524.2 L58.63,524.2 L59.03,524.2 L59.43,524.2 L59.83,524.2 L60.23,524.2 L60.63,524.2 L61.03,524.2 L61.43,524.2 L61.83,524.2 L62.23,524.2 L62.63,524.2 L63.03,524.2 L63.44,524.2 L63.84,524.2 L64.24,524.2 L64.64,524.2 L65.04,524.2 L65.44,524.2 L65.84,524.2 L66.24,524.2 L66.64,524.2 L67.04,524.2 L67.44,524.2 L67.84,524.2 L68.24,524.2 L68.65,524.2 L69.05,524.2 L69.45,524.2 L69.85,524.2 L70.25,524.2 L70.65,524.2 L71.05,524.2 L71.45,524.2 L71.85,524.2 L72.25,524.2 L72.65,524.2 L73.05,524.2 L73.46,524.2 L73.86,524.2 L74.26,524.2 L74.66,524.2 L75.06,524.2 L75.46,524.2 L75.86,524.2 L76.26,524.2 L76.66,524.2 L77.06,524.2 L77.46,524.2 L77.86,524.2 L78.26,524.2 L78.67,524.2 L79.07,524.2 L79.47,524.2 L79.87,524.2 L80.27,524.2 L80.67,524.2 L81.07,524.2 L81.47,524.2 L81.87,524.2 L82.27,524.2 L82.67,524.2 L83.07,524.2 L83.48,524.2 L83.88,524.2 L84.28,524.2 L84.68,524.2 L85.08,524.2 L85.48,524.2 L85.88,524.2 L86.28,524.2 L86.68,524.2 L87.08,524.2 L87.48,524.2 L87.88,524.2 L88.28,524.2 L88.69,524.2 L89.09,524.2 L89.49,524.2 L89.89,524.2 L90.29,524.2 L90.69,524.2 L91.09,524.2 L91.49,524.2 L91.89,524.2 L92.29,524.2 L92.69,524.2 L93.09,524.2 L93.5,524.2 L93.9,524.2 L94.3,524.2 L94.7,524.2 L95.1,524.2 L95.5,524.2 L95.9,524.2 L96.3,524.2 L96.7,524.2 L97.1,524.2 L97.5,524.2 L97.9,524.2 L98.3,524.2 L98.71,524.2 L99.11,524.2 L99.51,524.2 L99.91,524.2 L100.31,524.2 L100.71,524.2 L101.11,524.2 L101.51,524.19 L101.91,524.19 L102.31,524.19 L102.71,524.18 L103.11,524.17 L103.52,524.17 L103.92,524.16 L104.32,524.15 L104.72,524.13 L105.12,524.12 L105.52,524.1 L105.92,524.09 L106.32,524.07 L106.72,524.04 L107.12,524.02 L107.52,523.99 L107.92,523.95 L108.32,523.92 L108.73,523.88 L109.13,523.83 L109.53,523.77 L109.93,523.71 L110.33,523.63 L110.73,523.53 L111.13,523.42 L111.53,523.27 L111.93,523.1 L112.33,522.88 L112.73,522.62 L113.13,522.29 L113.54,521.88 L113.94,521.38 L114.34,520.78 L114.74,520.04 L115.14,519.16 L115.54,518.1 L115.94,516.84 L116.34,515.35 L116.74,513.61 L117.14,511.58 L117.54,509.25 L117.94,506.58 L118.34,503.55 L118.75,500.15 L119.15,496.35 L119.55,492.14 L119.95,487.52 L120.35,482.5 L120.75,477.08 L121.15,471.28 L121.55,465.14 L121.95,458.69 L122.35,451.97 L122.75,445.05 L123.15,437.97 L123.56,430.82 L123.96,423.66 L124.36,416.56 L124.76,409.61 L125.16,402.88 L125.56,396.45 L125.96,390.38 L126.36,384.75 L126.76,379.61 L127.16,375 L127.56,370.97 L127.96,367.53 L128.36,364.71 L128.77,362.5 L129.17,360.88 L129.57,359.81 L129.97,359.25 L130.37,359.1 L130.77,359.16 L131.17,359.45 L131.57,360.03 L131.97,360.92 L132.37,362.16 L132.77,363.76 L133.17,365.73 L133.58,368.07 L133.98,370.79 L134.38,373.86 L134.78,377.29 L135.18,381.06 L135.58,385.14 L135.98,389.52 L136.38,394.16 L136.78,399.03 L137.18,404.11 L137.58,409.36 L137.98,414.74 L138.38,420.22 L138.79,425.76 L139.19,431.31 L139.59,436.86 L139.99,442.36 L140.39,447.78 L140.79,453.09 L141.19,458.26 L141.59,463.27 L141.99,468.1 L142.39,472.72 L142.79,477.12 L143.19,481.29 L143.6,485.22 L144,488.9 L144.4,492.34 L144.8,495.53 L145.2,498.47 L145.6,501.17 L146,503.63 L146.4,505.87 L146.8,507.89 L147.2,509.71 L147.6,511.34 L148,512.79 L148.4,514.07 L148.81,515.2 L149.21,516.19 L149.61,517.05 L150.01,517.8 L150.41,518.45 L150.81,519 L151.21,519.48 L151.61,519.88 L152.01,520.22 L152.41,520.5 L152.81,520.74 L153.21,520.94 L153.62,521.11 L154.02,521.24 L154.42,521.35 L154.82,521.44 L155.22,521.52 L155.62,521.58 L156.02,521.62 L156.42,521.66 L156.82,521.69 L157.22,521.72 L157.62,521.73 L158.02,521.75 L158.42,521.76 L158.83,521.77 L159.23,521.78 L159.63,521.78 L160.03,521.78 L160.43,521.79 L160.83,521.79 L161.23,521.79 L161.63,521.79 L162.03,521.79 L162.43,521.79 L162.83,521.79 L163.23,521.8 L163.64,521.8 L164.04,521.8 L164.44,521.8 L164.84,521.8 L165.24,521.8 L165.64,521.8 L166.04,521.8 L166.44,521.8 L166.84,521.8 L167.24,521.8 L167.64,521.8 L168.04,521.8 L168.44,521.8 L168.85,521.8 L169.25,521.8 L169.65,521.8 L170.05,521.8 L170.45,521.8 L170.85,521.8 L171.25,521.8 L171.65,521.8 L172.05,521.8 L172.45,521.8 L172.85,521.8 L173.25,521.8 L173.66,521.8 L174.06,521.8 L174.46,521.8 L174.86,521.8 L175.26,521.8 L175.66,521.8 L176.06,521.8 L176.46,521.8 L176.86,521.8 L177.26,521.8 L177.66,521.8 L178.06,521.8 L178.46,521.8 L178.87,521.8 L179.27,521.8 L179.67,521.8 L180.07,521.8 L180.47,521.8 L180.87,521.8 L181.27,521.8 L181.67,521.8 L182.07,521.8 L182.47,521.8 L182.87,521.8 L183.27,521.8 L183.68,521.8 L184.08,521.8 L184.48,521.8 L184.88,521.8 L185.28,521.8 L185.68,521.8 L186.08,521.8 L186.48,521.8 L186.88,521.8 L187.28,521.8 L187.68,521.8 L188.08,521.8 L188.48,521.8 L188.89,521.8 L189.29,521.8 L189.69,521.8 L190.09,521.8 L190.49,521.8 L190.89,521.8 L191.29,521.8 L191.69,521.8 L192.09,521.8 L192.49,521.8 L192.89,521.8 L193.29,521.8 L193.7,521.8 L194.1,521.8 L194.5,521.8 L194.9,521.8 L195.3,521.8 L195.7,521.8 L196.1,521.8 L196.5,521.8 L196.9,521.8 L197.3,521.8 L197.7,521.8 L198.1,521.8 L198.5,521.8 L198.91,521.8 L199.31,521.8 L199.71,521.8 L200.11,521.8 L200.51,521.8 L200.91,521.8 L201.31,521.8 L201.71,521.8 L202.11,521.8 L202.51,521.81 L202.91,521.81 L203.31,521.81 L203.72,521.82 L204.12,521.82 L204.52,521.83 L204.92,521.83 L205.32,521.84 L205.72,521.85 L206.12,521.86 L206.52,521.87 L206.92,521.88 L207.32,521.89 L207.72,521.91 L208.12,521.92 L208.52,521.94 L208.93,521.95 L209.33,521.97 L209.73,521.99 L210.13,522 L210.53,522.02 L210.93,522.04 L211.33,522.05 L211.73,522.07 L212.13,522.09 L212.53,522.1 L212.93,522.11 L213.33,522.13 L213.74,522.14 L214.14,522.14 L214.54,522.15 L214.94,522.15 L215.34,522.14 L215.74,522.13 L216.14,522.12 L216.54,522.1 L216.94,522.07 L217.34,522.04 L217.74,522 L218.14,521.96 L218.54,521.91 L218.95,521.85 L219.35,521.78 L219.75,521.71 L220.15,521.64 L220.55,521.56 L220.95,521.47 L221.35,521.39 L221.75,521.3 L222.15,521.21 L222.55,521.12 L222.95,521.03 L223.35,520.94 L223.76,520.86 L224.16,520.78 L224.56,520.71 L224.96,520.64 L225.36,520.58 L225.76,520.54 L226.16,520.5 L226.56,520.47 L226.96,520.46 L227.36,520.46 L227.76,520.46 L228.16,520.49 L228.56,520.52 L228.97,520.56 L229.37,520.61 L229.77,520.67 L230.17,520.75 L230.57,520.82 L230.97,520.91 L231.37,521 L231.77,521.09 L232.17,521.19 L232.57,521.29 L232.97,521.39 L233.37,521.49 L233.78,521.58 L234.18,521.68 L234.58,521.78 L234.98,521.87 L235.38,521.96 L235.78,522.04 L236.18,522.12 L236.58,522.2 L236.98,522.27 L237.38,522.34 L237.78,522.4 L238.18,522.47 L238.58,522.52 L238.99,522.58 L239.39,522.63 L239.79,522.68 L240.19,522.72 L240.59,522.76 L240.99,522.8 L241.39,522.84 L241.79,522.88 L242.19,522.92 L242.59,522.95 L242.99,522.98 L243.39,523.01 L243.8,523.04 L244.2,523.07 L244.6,523.1 L245,523.12 L245.4,523.15 L245.8,523.17 L246.2,523.19 L246.6,523.2 L247,523.22 L247.4,523.23 L247.8,523.24 L248.2,523.25 L248.6,523.26 L249.01,523.27 L249.41,523.28 L249.81,523.28 L250.21,523.29 L250.61,523.29 L251.01,523.29 L251.41,523.29 L251.81,523.3 L252.21,523.3 L252.61,523.3 L253.01,523.3 L253.41,523.3 L253.82,523.3 L254.22,523.3 L254.62,523.3 L255.02,523.3 L255.42,523.3 L255.82,523.3 L256.22,523.3 L256.62,523.3 L257.02,523.3 L257.42,523.3 L257.82,523.3 L258.22,523.3 L258.62,523.3 L259.03,523.3 L259.43,523.3 L259.83,523.3 L260.23,523.3 L260.63,523.3 L261.03,523.3 L261.43,523.3 L261.83,523.3 L262.23,523.3 L262.63,523.3 L263.03,523.3 L263.43,523.3 L263.84,523.3 L264.24,523.3 L264.64,523.3 L265.04,523.3 L265.44,523.3 L265.84,523.3 L266.24,523.3 L266.64,523.3 L267.04,523.3 L267.44,523.3 L267.84,523.3 L268.24,523.3 L268.64,523.3 L269.05,523.3 L269.45,523.3 L269.85,523.3 L270.25,523.3 L270.65,523.3 L271.05,523.3 L271.45,523.3 L271.85,523.3 L272.25,523.3 L272.65,523.3 L273.05,523.3 L273.45,523.3 L273.86,523.3 L274.26,523.3 L274.66,523.3 L275.06,523.3 L275.46,523.3 L275.86,523.3 L276.26,523.3 L276.66,523.3 L277.06,523.3 L277.46,523.3 L277.86,523.3 L278.26,523.3 L278.66,523.3 L279.07,523.3 L279.47,523.3 L279.87,523.3 L280.27,523.3 L280.67,523.3 L281.07,523.3 L281.47,523.3 L281.87,523.3 L282.27,523.3 L282.67,523.3 L283.07,523.3 L283.47,523.3 L283.88,523.3 L284.28,523.3 L284.68,523.3 L285.08,523.3 L285.48,523.3 L285.88,523.3 L286.28,523.3" stroke="#111" stroke-width="1.25" fill="none" stroke-linejoin="round"/>
<path d="M45.8,524.05 L46.2,524.05 L46.6,524.04 L47,524.04 L47.4,524.04 L47.8,524.04 L48.2,524.03 L48.61,524.03 L49.01,524.03 L49.41,524.02 L49.81,524.02 L50.21,524.02 L50.61,524.01 L51.01,524.01 L51.41,524.01 L51.81,524 L52.21,524 L52.61,524 L53.01,524 L53.42,523.99 L53.82,523.99 L54.22,523.99 L54.62,523.98 L55.02,523.98 L55.42,523.98 L55.82,523.97 L56.22,523.97 L56.62,523.97 L57.02,523.96 L57.42,523.96 L57.82,523.95 L58.22,523.95 L58.63,523.95 L59.03,523.94 L59.43,523.93 L59.83,523.93 L60.23,523.92 L60.63,523.91 L61.03,523.89 L61.43,523.88 L61.83,523.86 L62.23,523.84 L62.63,523.81 L63.03,523.79 L63.44,523.75 L63.84,523.72 L64.24,523.68 L64.64,523.63 L65.04,523.58 L65.44,523.52 L65.84,523.46 L66.24,523.39 L66.64,523.32 L67.04,523.25 L67.44,523.17 L67.84,523.08 L68.24,522.99 L68.65,522.9 L69.05,522.81 L69.45,522.72 L69.85,522.62 L70.25,522.52 L70.65,522.42 L71.05,522.32 L71.45,522.21 L71.85,522.11 L72.25,522.01 L72.65,521.9 L73.05,521.8 L73.46,521.69 L73.86,521.59 L74.26,521.49 L74.66,521.38 L75.06,521.28 L75.46,521.17 L75.86,521.07 L76.26,520.96 L76.66,520.85 L77.06,520.75 L77.46,520.64 L77.86,520.54 L78.26,520.43 L78.67,520.33 L79.07,520.22 L79.47,520.12 L79.87,520.01 L80.27,519.91 L80.67,519.8 L81.07,519.7 L81.47,519.59 L81.87,519.49 L82.27,519.38 L82.67,519.28 L83.07,519.17 L83.48,519.07 L83.88,518.96 L84.28,518.86 L84.68,518.75 L85.08,518.65 L85.48,518.54 L85.88,518.44 L86.28,518.33 L86.68,518.23 L87.08,518.12 L87.48,518.02 L87.88,517.91 L88.28,517.81 L88.69,517.7 L89.09,517.6 L89.49,517.49 L89.89,517.39 L90.29,517.28 L90.69,517.18 L91.09,517.07 L91.49,516.97 L91.89,516.86 L92.29,516.76 L92.69,516.65 L93.09,516.55 L93.5,516.44 L93.9,516.34 L94.3,516.23 L94.7,516.13 L95.1,516.02 L95.5,515.92 L95.9,515.81 L96.3,515.7 L96.7,515.6 L97.1,515.49 L97.5,515.39 L97.9,515.28 L98.3,515.18 L98.71,515.07 L99.11,514.97 L99.51,514.86 L99.91,514.76 L100.31,514.65 L100.71,514.55 L101.11,514.44 L101.51,514.34 L101.91,514.23 L102.31,514.13 L102.71,514.02 L103.11,513.92 L103.52,513.81 L103.92,513.71 L104.32,513.6 L104.72,513.5 L105.12,513.39 L105.52,513.29 L105.92,513.18 L106.32,513.08 L106.72,512.98 L107.12,512.87 L107.52,512.77 L107.92,512.66 L108.32,512.56 L108.73,512.46 L109.13,512.36 L109.53,512.26 L109.93,512.17 L110.33,512.07 L110.73,511.98 L111.13,511.89 L111.53,511.8 L111.93,511.72 L112.33,511.63 L112.73,511.56 L113.13,511.48 L113.54,511.42 L113.94,511.35 L114.34,511.29 L114.74,511.23 L115.14,511.18 L115.54,511.13 L115.94,511.09 L116.34,511.05 L116.74,511.01 L117.14,510.97 L117.54,510.94 L117.94,510.91 L118.34,510.88 L118.75,510.85 L119.15,510.83 L119.55,510.8 L119.95,510.78 L120.35,510.76 L120.75,510.74 L121.15,510.71 L121.55,510.69 L121.95,510.67 L122.35,510.65 L122.75,510.63 L123.15,510.61 L123.56,510.59 L123.96,510.57 L124.36,510.55 L124.76,510.53 L125.16,510.51 L125.56,510.49 L125.96,510.47 L126.36,510.45 L126.76,510.43 L127.16,510.41 L127.56,510.38 L127.96,510.36 L128.36,510.34 L128.77,510.32 L129.17,510.3 L129.57,510.28 L129.97,510.26 L130.37,510.24 L130.77,510.22 L131.17,510.2 L131.57,510.19 L131.97,510.17 L132.37,510.15 L132.77,510.13 L133.17,510.11 L133.58,510.09 L133.98,510.07 L134.38,510.05 L134.78,510.04 L135.18,510.02 L135.58,510 L135.98,509.98 L136.38,509.97 L136.78,509.95 L137.18,509.93 L137.58,509.91 L137.98,509.9 L138.38,509.88 L138.79,509.86 L139.19,509.84 L139.59,509.82 L139.99,509.8 L140.39,509.78 L140.79,509.75 L141.19,509.73 L141.59,509.7 L141.99,509.67 L142.39,509.64 L142.79,509.6 L143.19,509.57 L143.6,509.52 L144,509.48 L144.4,509.43 L144.8,509.37 L145.2,509.3 L145.6,509.23 L146,509.15 L146.4,509.06 L146.8,508.96 L147.2,508.84 L147.6,508.71 L148,508.56 L148.4,508.4 L148.81,508.21 L149.21,508 L149.61,507.77 L150.01,507.5 L150.41,507.21 L150.81,506.88 L151.21,506.51 L151.61,506.09 L152.01,505.63 L152.41,505.12 L152.81,504.55 L153.21,503.91 L153.62,503.21 L154.02,502.44 L154.42,501.6 L154.82,500.67 L155.22,499.65 L155.62,498.53 L156.02,497.32 L156.42,496 L156.82,494.57 L157.22,493.02 L157.62,491.36 L158.02,489.57 L158.42,487.64 L158.83,485.59 L159.23,483.4 L159.63,481.07 L160.03,478.6 L160.43,475.99 L160.83,473.23 L161.23,470.34 L161.63,467.31 L162.03,464.14 L162.43,460.85 L162.83,457.43 L163.23,453.89 L163.64,450.24 L164.04,446.49 L164.44,442.66 L164.84,438.75 L165.24,434.77 L165.64,430.74 L166.04,426.68 L166.44,422.6 L166.84,418.52 L167.24,414.45 L167.64,410.42 L168.04,406.45 L168.44,402.54 L168.85,398.74 L169.25,395.04 L169.65,391.48 L170.05,388.07 L170.45,384.84 L170.85,381.79 L171.25,378.96 L171.65,376.36 L172.05,373.99 L172.45,371.89 L172.85,370.06 L173.25,368.51 L173.66,367.26 L174.06,366.32 L174.46,365.69 L174.86,365.37 L175.26,365.37 L175.66,365.68 L176.06,366.29 L176.46,367.18 L176.86,368.36 L177.26,369.82 L177.66,371.55 L178.06,373.54 L178.46,375.79 L178.87,378.27 L179.27,380.99 L179.67,383.92 L180.07,387.04 L180.47,390.35 L180.87,393.82 L181.27,397.45 L181.67,401.2 L182.07,405.06 L182.47,409.02 L182.87,413.06 L183.27,417.16 L183.68,421.29 L184.08,425.45 L184.48,429.62 L184.88,433.78 L185.28,437.91 L185.68,442.01 L186.08,446.05 L186.48,450.02 L186.88,453.92 L187.28,457.73 L187.68,461.45 L188.08,465.05 L188.48,468.55 L188.89,471.92 L189.29,475.16 L189.69,478.28 L190.09,481.26 L190.49,484.11 L190.89,486.82 L191.29,489.4 L191.69,491.83 L192.09,494.14 L192.49,496.31 L192.89,498.35 L193.29,500.26 L193.7,502.05 L194.1,503.73 L194.5,505.29 L194.9,506.74 L195.3,508.08 L195.7,509.33 L196.1,510.48 L196.5,511.54 L196.9,512.52 L197.3,513.42 L197.7,514.24 L198.1,515 L198.5,515.69 L198.91,516.31 L199.31,516.89 L199.71,517.41 L200.11,517.88 L200.51,518.31 L200.91,518.69 L201.31,519.04 L201.71,519.36 L202.11,519.64 L202.51,519.89 L202.91,520.12 L203.31,520.33 L203.72,520.51 L204.12,520.67 L204.52,520.82 L204.92,520.95 L205.32,521.06 L205.72,521.17 L206.12,521.26 L206.52,521.34 L206.92,521.41 L207.32,521.48 L207.72,521.54 L208.12,521.59 L208.52,521.64 L208.93,521.68 L209.33,521.72 L209.73,521.75 L210.13,521.78 L210.53,521.81 L210.93,521.83 L211.33,521.85 L211.73,521.86 L212.13,521.87 L212.53,521.87 L212.93,521.88 L213.33,521.87 L213.74,521.87 L214.14,521.85 L214.54,521.84 L214.94,521.82 L215.34,521.8 L215.74,521.77 L216.14,521.74 L216.54,521.71 L216.94,521.67 L217.34,521.63 L217.74,521.59 L218.14,521.55 L218.54,521.51 L218.95,521.46 L219.35,521.41 L219.75,521.37 L220.15,521.32 L220.55,521.27 L220.95,521.22 L221.35,521.17 L221.75,521.12 L222.15,521.08 L222.55,521.03 L222.95,520.98 L223.35,520.94 L223.76,520.9 L224.16,520.86 L224.56,520.82 L224.96,520.79 L225.36,520.76 L225.76,520.73 L226.16,520.71 L226.56,520.69 L226.96,520.68 L227.36,520.68 L227.76,520.68 L228.16,520.69 L228.56,520.7 L228.97,520.72 L229.37,520.74 L229.77,520.78 L230.17,520.81 L230.57,520.85 L230.97,520.9 L231.37,520.95 L231.77,521 L232.17,521.06 L232.57,521.12 L232.97,521.18 L233.37,521.24 L233.78,521.31 L234.18,521.37 L234.58,521.43 L234.98,521.5 L235.38,521.56 L235.78,521.62 L236.18,521.68 L236.58,521.74 L236.98,521.8 L237.38,521.86 L237.78,521.91 L238.18,521.96 L238.58,522.01 L238.99,522.06 L239.39,522.11 L239.79,522.15 L240.19,522.19 L240.59,522.23 L240.99,522.27 L241.39,522.31 L241.79,522.35 L242.19,522.38 L242.59,522.42 L242.99,522.45 L243.39,522.48 L243.8,522.51 L244.2,522.54 L244.6,522.58 L245,522.61 L245.4,522.64 L245.8,522.67 L246.2,522.7 L246.6,522.73 L247,522.76 L247.4,522.79 L247.8,522.82 L248.2,522.85 L248.6,522.88 L249.01,522.9 L249.41,522.93 L249.81,522.96 L250.21,522.99 L250.61,523.01 L251.01,523.04 L251.41,523.07 L251.81,523.09 L252.21,523.11 L252.61,523.13 L253.01,523.15 L253.41,523.17 L253.82,523.19 L254.22,523.2 L254.62,523.22 L255.02,523.23 L255.42,523.24 L255.82,523.25 L256.22,523.26 L256.62,523.27 L257.02,523.28 L257.42,523.28 L257.82,523.29 L258.22,523.29 L258.62,523.29 L259.03,523.29 L259.43,523.3 L259.83,523.3 L260.23,523.3 L260.63,523.3 L261.03,523.3 L261.43,523.3 L261.83,523.3 L262.23,523.3 L262.63,523.3 L263.03,523.3 L263.43,523.3 L263.84,523.3 L264.24,523.3 L264.64,523.3 L265.04,523.3 L265.44,523.3 L265.84,523.3 L266.24,523.3 L266.64,523.3 L267.04,523.3 L267.44,523.3 L267.84,523.3 L268.24,523.3 L268.64,523.3 L269.05,523.3 L269.45,523.3 L269.85,523.3 L270.25,523.3 L270.65,523.3 L271.05,523.3 L271.45,523.3 L271.85,523.3 L272.25,523.3 L272.65,523.3 L273.05,523.3 L273.45,523.3 L273.86,523.3 L274.26,523.3 L274.66,523.3 L275.06,523.3 L275.46,523.3 L275.86,523.3 L276.26,523.3 L276.66,523.3 L277.06,523.3 L277.46,523.3 L277.86,523.3 L278.26,523.3 L278.66,523.3 L279.07,523.3 L279.47,523.3 L279.87,523.3 L280.27,523.3 L280.67,523.3 L281.07,523.3 L281.47,523.3 L281.87,523.3 L282.27,523.3 L282.67,523.3 L283.07,523.3 L283.47,523.3 L283.88,523.3 L284.28,523.3 L284.68,523.3 L285.08,523.3 L285.48,523.3 L285.88,523.3 L286.28,523.3" stroke="#111" stroke-width="1.25" fill="none" stroke-dasharray="5.2 2.9" stroke-linejoin="round"/>
<line x1="40.7" y1="629" x2="40.7" y2="835.4" stroke="#8a8a8a" stroke-width="1.1" />
<line x1="40.7" y1="835.4" x2="275.72" y2="835.4" stroke="#8a8a8a" stroke-width="1.1" />
<line x1="275.72" y1="629" x2="275.72" y2="835.4" stroke="#8a8a8a" stroke-width="1.1" />
<line x1="38.1" y1="809.4" x2="40.7" y2="809.4" stroke="#8a8a8a" stroke-width="1" />
<text transform="translate(33.1,812) scale(0.92,1)" font-size="8.7" text-anchor="end" fill="#333" class="n">0</text>
<line x1="38.1" y1="757.6" x2="40.7" y2="757.6" stroke="#8a8a8a" stroke-width="1" />
<text transform="translate(33.1,760.2) scale(0.92,1)" font-size="8.7" text-anchor="end" fill="#333" class="n">10</text>
<line x1="38.1" y1="705.8" x2="40.7" y2="705.8" stroke="#8a8a8a" stroke-width="1" />
<text transform="translate(33.1,708.4) scale(0.92,1)" font-size="8.7" text-anchor="end" fill="#333" class="n">20</text>
<line x1="38.1" y1="654" x2="40.7" y2="654" stroke="#8a8a8a" stroke-width="1" />
<text transform="translate(33.1,656.6) scale(0.92,1)" font-size="8.7" text-anchor="end" fill="#333" class="n">30</text>
<line x1="40.7" y1="835.4" x2="40.7" y2="837.8" stroke="#8a8a8a" stroke-width="1" />
<text transform="translate(40.7,849.8) scale(0.92,1)" font-size="8.7" text-anchor="middle" fill="#333" class="n">40</text>
<line x1="79.87" y1="835.4" x2="79.87" y2="837.8" stroke="#8a8a8a" stroke-width="1" />
<text transform="translate(79.87,849.8) scale(0.92,1)" font-size="8.7" text-anchor="middle" fill="#333" class="n">50</text>
<line x1="119.04" y1="835.4" x2="119.04" y2="837.8" stroke="#8a8a8a" stroke-width="1" />
<text transform="translate(119.04,849.8) scale(0.92,1)" font-size="8.7" text-anchor="middle" fill="#333" class="n">60</text>
<line x1="158.21" y1="835.4" x2="158.21" y2="837.8" stroke="#8a8a8a" stroke-width="1" />
<text transform="translate(158.21,849.8) scale(0.92,1)" font-size="8.7" text-anchor="middle" fill="#333" class="n">70</text>
<line x1="197.38" y1="835.4" x2="197.38" y2="837.8" stroke="#8a8a8a" stroke-width="1" />
<text transform="translate(197.38,849.8) scale(0.92,1)" font-size="8.7" text-anchor="middle" fill="#333" class="n">80</text>
<line x1="236.55" y1="835.4" x2="236.55" y2="837.8" stroke="#8a8a8a" stroke-width="1" />
<text transform="translate(236.55,849.8) scale(0.92,1)" font-size="8.7" text-anchor="middle" fill="#333" class="n">90</text>
<line x1="275.72" y1="835.4" x2="275.72" y2="837.8" stroke="#8a8a8a" stroke-width="1" />
<text transform="translate(275.72,849.8) scale(0.92,1)" font-size="8.7" text-anchor="middle" fill="#333" class="n">100</text>
<text transform="translate(80.8,623.4) scale(0.93,1)" font-size="8.0" text-anchor="middle" fill="#333" class="n">669</text>
<path d="M75.9,627.4 L80.9,627.4 L78.4,631.8 Z" fill="#000"/>
<text transform="translate(110.9,623.4) scale(0.93,1)" font-size="8.0" text-anchor="middle" fill="#333" class="n">440</text>
<path d="M105.5,627.4 L110.5,627.4 L108,631.8 Z" fill="#000"/>
<text transform="translate(152.7,623.4) scale(0.93,1)" font-size="8.0" text-anchor="middle" fill="#333" class="n">158</text>
<path d="M150.2,627.4 L155.2,627.4 L152.7,631.8 Z" fill="#000"/>
<text transform="translate(187.2,623.4) scale(0.93,1)" font-size="8.0" text-anchor="middle" fill="#333" class="n">75</text>
<path d="M185,627.4 L190,627.4 L187.5,631.8 Z" fill="#000"/>
<text transform="translate(205.6,623.4) scale(0.93,1)" font-size="8.0" text-anchor="middle" fill="#333" class="n">43</text>
<path d="M203.4,627.4 L208.4,627.4 L205.9,631.8 Z" fill="#000"/>
<text transform="translate(235.3,623.4) scale(0.93,1)" font-size="8.0" text-anchor="middle" fill="#333" class="n">29</text>
<path d="M233.1,627.4 L238.1,627.4 L235.6,631.8 Z" fill="#000"/>
<text transform="translate(266.8,623.4) scale(0.93,1)" font-size="8.0" text-anchor="middle" fill="#333" class="n">13.7</text>
<path d="M264.7,627.4 L269.7,627.4 L267.2,631.8 Z" fill="#000"/>
<path d="M40.7,809.84 L41.09,809.81 L41.48,809.77 L41.88,809.74 L42.27,809.69 L42.66,809.65 L43.05,809.6 L43.44,809.55 L43.83,809.5 L44.23,809.45 L44.62,809.4 L45.01,809.35 L45.4,809.3 L45.79,809.24 L46.18,809.19 L46.58,809.13 L46.97,809.08 L47.36,809.02 L47.75,808.95 L48.14,808.89 L48.53,808.82 L48.93,808.75 L49.32,808.67 L49.71,808.59 L50.1,808.51 L50.49,808.42 L50.88,808.33 L51.28,808.24 L51.67,808.16 L52.06,808.07 L52.45,807.97 L52.84,807.88 L53.23,807.79 L53.63,807.7 L54.02,807.6 L54.41,807.51 L54.8,807.4 L55.19,807.3 L55.58,807.19 L55.98,807.07 L56.37,806.94 L56.76,806.8 L57.15,806.66 L57.54,806.51 L57.93,806.35 L58.33,806.19 L58.72,806.03 L59.11,805.87 L59.5,805.72 L59.89,805.57 L60.29,805.44 L60.68,805.34 L61.07,805.26 L61.46,805.22 L61.85,805.23 L62.24,805.28 L62.64,805.38 L63.03,805.53 L63.42,805.72 L63.81,805.95 L64.2,806.21 L64.59,806.48 L64.99,806.75 L65.38,807.03 L65.77,807.3 L66.16,807.56 L66.55,807.8 L66.94,808.02 L67.34,808.22 L67.73,808.41 L68.12,808.58 L68.51,808.74 L68.9,808.89 L69.29,809.04 L69.69,809.18 L70.08,809.31 L70.47,809.45 L70.86,809.58 L71.25,809.71 L71.64,809.84 L72.04,809.97 L72.43,810.09 L72.82,810.2 L73.21,810.29 L73.6,810.38 L73.99,810.44 L74.39,810.49 L74.78,810.52 L75.17,810.53 L75.56,810.52 L75.95,810.5 L76.34,810.47 L76.74,810.43 L77.13,810.38 L77.52,810.33 L77.91,810.27 L78.3,810.21 L78.69,810.16 L79.09,810.1 L79.48,810.04 L79.87,809.98 L80.26,809.92 L80.65,809.87 L81.05,809.81 L81.44,809.75 L81.83,809.69 L82.22,809.63 L82.61,809.57 L83,809.5 L83.4,809.44 L83.79,809.37 L84.18,809.31 L84.57,809.24 L84.96,809.17 L85.35,809.09 L85.75,809.02 L86.14,808.95 L86.53,808.87 L86.92,808.8 L87.31,808.72 L87.7,808.65 L88.1,808.57 L88.49,808.5 L88.88,808.42 L89.27,808.35 L89.66,808.27 L90.05,808.2 L90.45,808.12 L90.84,808.05 L91.23,807.97 L91.62,807.9 L92.01,807.82 L92.4,807.74 L92.8,807.67 L93.19,807.59 L93.58,807.51 L93.97,807.44 L94.36,807.36 L94.75,807.27 L95.15,807.19 L95.54,807.1 L95.93,807 L96.32,806.9 L96.71,806.8 L97.1,806.7 L97.5,806.59 L97.89,806.48 L98.28,806.37 L98.67,806.25 L99.06,806.14 L99.46,806.02 L99.85,805.9 L100.24,805.79 L100.63,805.67 L101.02,805.55 L101.41,805.44 L101.81,805.32 L102.2,805.2 L102.59,805.09 L102.98,804.97 L103.37,804.85 L103.76,804.73 L104.16,804.62 L104.55,804.5 L104.94,804.38 L105.33,804.26 L105.72,804.14 L106.11,804.01 L106.51,803.88 L106.9,803.75 L107.29,803.62 L107.68,803.48 L108.07,803.34 L108.46,803.2 L108.86,803.05 L109.25,802.9 L109.64,802.75 L110.03,802.6 L110.42,802.45 L110.81,802.29 L111.21,802.13 L111.6,801.98 L111.99,801.82 L112.38,801.66 L112.77,801.5 L113.16,801.34 L113.56,801.18 L113.95,801.02 L114.34,800.85 L114.73,800.69 L115.12,800.52 L115.51,800.35 L115.91,800.18 L116.3,800 L116.69,799.83 L117.08,799.65 L117.47,799.47 L117.86,799.28 L118.26,799.09 L118.65,798.9 L119.04,798.7 L119.43,798.49 L119.82,798.28 L120.22,798.05 L120.61,797.82 L121,797.57 L121.39,797.31 L121.78,797.03 L122.17,796.72 L122.57,796.4 L122.96,796.05 L123.35,795.67 L123.74,795.25 L124.13,794.79 L124.52,794.28 L124.92,793.72 L125.31,793.09 L125.7,792.39 L126.09,791.62 L126.48,790.75 L126.87,789.78 L127.27,788.71 L127.66,787.51 L128.05,786.19 L128.44,784.74 L128.83,783.14 L129.22,781.4 L129.62,779.51 L130.01,777.48 L130.4,775.3 L130.79,772.98 L131.18,770.52 L131.57,767.93 L131.97,765.23 L132.36,762.43 L132.75,759.55 L133.14,756.61 L133.53,753.63 L133.92,750.64 L134.32,747.67 L134.71,744.77 L135.1,741.95 L135.49,739.27 L135.88,736.74 L136.27,734.41 L136.67,732.31 L137.06,730.46 L137.45,728.89 L137.84,727.63 L138.23,726.68 L138.63,726.05 L139.02,725.62 L139.41,725.28 L139.8,725.02 L140.19,724.84 L140.58,724.74 L140.98,724.72 L141.37,724.78 L141.76,724.91 L142.15,725.11 L142.54,725.38 L142.93,725.72 L143.33,726.12 L143.72,726.58 L144.11,727.1 L144.5,727.67 L144.89,728.29 L145.28,728.96 L145.68,729.66 L146.07,730.41 L146.46,731.18 L146.85,731.98 L147.24,732.81 L147.63,733.66 L148.03,734.52 L148.42,735.4 L148.81,736.29 L149.2,737.18 L149.59,738.08 L149.98,738.98 L150.38,739.87 L150.77,740.76 L151.16,741.65 L151.55,742.52 L151.94,743.38 L152.33,744.23 L152.73,745.07 L153.12,745.89 L153.51,746.69 L153.9,747.48 L154.29,748.25 L154.68,749 L155.08,749.74 L155.47,750.46 L155.86,751.16 L156.25,751.84 L156.64,752.51 L157.03,753.17 L157.43,753.81 L157.82,754.43 L158.21,755.04 L158.6,755.64 L158.99,756.23 L159.39,756.81 L159.78,757.38 L160.17,757.94 L160.56,758.49 L160.95,759.04 L161.34,759.57 L161.74,760.1 L162.13,760.62 L162.52,761.14 L162.91,761.64 L163.3,762.14 L163.69,762.64 L164.09,763.12 L164.48,763.6 L164.87,764.07 L165.26,764.53 L165.65,764.98 L166.04,765.41 L166.44,765.84 L166.83,766.24 L167.22,766.63 L167.61,767 L168,767.34 L168.39,767.66 L168.79,767.95 L169.18,768.21 L169.57,768.44 L169.96,768.63 L170.35,768.77 L170.74,768.87 L171.14,768.92 L171.53,768.92 L171.92,768.86 L172.31,768.74 L172.7,768.55 L173.09,768.28 L173.49,767.95 L173.88,767.53 L174.27,767.03 L174.66,766.44 L175.05,765.76 L175.44,764.99 L175.84,764.11 L176.23,763.14 L176.62,762.06 L177.01,760.87 L177.4,759.57 L177.79,758.16 L178.19,756.65 L178.58,755.02 L178.97,753.29 L179.36,751.44 L179.75,749.49 L180.15,747.44 L180.54,745.29 L180.93,743.05 L181.32,740.72 L181.71,738.31 L182.1,735.83 L182.5,733.28 L182.89,730.67 L183.28,728.02 L183.67,725.34 L184.06,722.63 L184.45,719.91 L184.85,717.19 L185.24,714.49 L185.63,711.82 L186.02,709.19 L186.41,706.61 L186.8,704.11 L187.2,701.69 L187.59,699.38 L187.98,697.17 L188.37,695.1 L188.76,693.16 L189.15,691.38 L189.55,689.76 L189.94,688.31 L190.33,687.05 L190.72,685.99 L191.11,685.12 L191.5,684.46 L191.9,684.01 L192.29,683.78 L192.68,683.76 L193.07,684.03 L193.46,684.65 L193.85,685.61 L194.25,686.9 L194.64,688.52 L195.03,690.44 L195.42,692.66 L195.81,695.15 L196.2,697.88 L196.6,700.84 L196.99,704 L197.38,707.33 L197.77,710.81 L198.16,714.41 L198.56,718.09 L198.95,721.83 L199.34,725.61 L199.73,729.4 L200.12,733.17 L200.51,736.9 L200.91,740.57 L201.3,744.16 L201.69,747.65 L202.08,751.01 L202.47,754.25 L202.86,757.35 L203.26,760.29 L203.65,763.06 L204.04,765.67 L204.43,768.1 L204.82,770.35 L205.21,772.42 L205.61,774.29 L206,775.99 L206.39,777.49 L206.78,778.81 L207.17,779.93 L207.56,780.87 L207.96,781.62 L208.35,782.18 L208.74,782.55 L209.13,782.72 L209.52,782.7 L209.91,782.49 L210.31,782.08 L210.7,781.46 L211.09,780.64 L211.48,779.6 L211.87,778.35 L212.26,776.88 L212.66,775.18 L213.05,773.26 L213.44,771.09 L213.83,768.7 L214.22,766.06 L214.61,763.18 L215.01,760.07 L215.4,756.71 L215.79,753.13 L216.18,749.32 L216.57,745.3 L216.96,741.07 L217.36,736.65 L217.75,732.07 L218.14,727.34 L218.53,722.49 L218.92,717.56 L219.32,712.56 L219.71,707.54 L220.1,702.54 L220.49,697.6 L220.88,692.75 L221.27,688.04 L221.67,683.5 L222.06,679.18 L222.45,675.11 L222.84,671.32 L223.23,667.86 L223.62,664.74 L224.02,662.01 L224.41,659.68 L224.8,657.79 L225.19,656.35 L225.58,655.38 L225.97,654.89 L226.37,654.89 L226.76,655.47 L227.15,656.72 L227.54,658.62 L227.93,661.14 L228.32,664.27 L228.72,667.95 L229.11,672.15 L229.5,676.82 L229.89,681.91 L230.28,687.35 L230.67,693.09 L231.07,699.06 L231.46,705.21 L231.85,711.46 L232.24,717.75 L232.63,724.04 L233.02,730.26 L233.42,736.35 L233.81,742.29 L234.2,748.02 L234.59,753.51 L234.98,758.73 L235.37,763.66 L235.77,768.27 L236.16,772.55 L236.55,776.5 L236.94,780.11 L237.33,783.39 L237.73,786.35 L238.12,789.02 L238.51,791.39 L238.9,793.5 L239.29,795.37 L239.68,797.02 L240.08,798.47 L240.47,799.73 L240.86,800.83 L241.25,801.79 L241.64,802.61 L242.03,803.31 L242.43,803.91 L242.82,804.42 L243.21,804.86 L243.6,805.22 L243.99,805.52 L244.38,805.77 L244.78,805.98 L245.17,806.15 L245.56,806.29 L245.95,806.4 L246.34,806.49 L246.73,806.56 L247.13,806.61 L247.52,806.66 L247.91,806.69 L248.3,806.72 L248.69,806.74 L249.08,806.76 L249.48,806.77 L249.87,806.78 L250.26,806.79 L250.65,806.79 L251.04,806.8 L251.43,806.8 L251.83,806.8 L252.22,806.8 L252.61,806.81 L253,806.81 L253.39,806.81 L253.78,806.81 L254.18,806.81 L254.57,806.81 L254.96,806.81 L255.35,806.81 L255.74,806.81 L256.13,806.81 L256.53,806.81 L256.92,806.81 L257.31,806.81 L257.7,806.81 L258.09,806.81 L258.49,806.81 L258.88,806.81 L259.27,806.81 L259.66,806.81 L260.05,806.81 L260.44,806.81 L260.84,806.81 L261.23,806.81 L261.62,806.81 L262.01,806.81 L262.4,806.81 L262.79,806.81 L263.19,806.81 L263.58,806.81 L263.97,806.81 L264.36,806.81 L264.75,806.81 L265.14,806.81 L265.54,806.81 L265.93,806.81 L266.32,806.81 L266.71,806.81 L267.1,806.81 L267.49,806.81 L267.89,806.81 L268.28,806.81 L268.67,806.81 L269.06,806.81 L269.45,806.81 L269.84,806.81 L270.24,806.81 L270.63,806.81 L271.02,806.81 L271.41,806.81 L271.8,806.81 L272.19,806.81 L272.59,806.81 L272.98,806.81 L273.37,806.81 L273.76,806.81 L274.15,806.81 L274.54,806.81 L274.94,806.81 L275.33,806.81 L275.72,806.81" stroke="#111" stroke-width="1.25" fill="none" stroke-linejoin="round"/>
<path d="M40.7,807.33 L41.09,807.33 L41.48,807.33 L41.88,807.33 L42.27,807.33 L42.66,807.33 L43.05,807.33 L43.44,807.33 L43.83,807.33 L44.23,807.33 L44.62,807.33 L45.01,807.33 L45.4,807.33 L45.79,807.33 L46.18,807.33 L46.58,807.33 L46.97,807.33 L47.36,807.33 L47.75,807.33 L48.14,807.33 L48.53,807.33 L48.93,807.33 L49.32,807.33 L49.71,807.33 L50.1,807.33 L50.49,807.33 L50.88,807.33 L51.28,807.33 L51.67,807.33 L52.06,807.33 L52.45,807.33 L52.84,807.33 L53.23,807.33 L53.63,807.33 L54.02,807.33 L54.41,807.33 L54.8,807.33 L55.19,807.33 L55.58,807.33 L55.98,807.33 L56.37,807.33 L56.76,807.33 L57.15,807.33 L57.54,807.33 L57.93,807.33 L58.33,807.33 L58.72,807.33 L59.11,807.33 L59.5,807.33 L59.89,807.33 L60.29,807.33 L60.68,807.33 L61.07,807.33 L61.46,807.33 L61.85,807.33 L62.24,807.33 L62.64,807.33 L63.03,807.33 L63.42,807.33 L63.81,807.33 L64.2,807.33 L64.59,807.33 L64.99,807.33 L65.38,807.33 L65.77,807.33 L66.16,807.33 L66.55,807.33 L66.94,807.33 L67.34,807.33 L67.73,807.33 L68.12,807.33 L68.51,807.33 L68.9,807.33 L69.29,807.33 L69.69,807.33 L70.08,807.33 L70.47,807.33 L70.86,807.33 L71.25,807.33 L71.64,807.33 L72.04,807.33 L72.43,807.33 L72.82,807.33 L73.21,807.33 L73.6,807.33 L73.99,807.33 L74.39,807.33 L74.78,807.33 L75.17,807.33 L75.56,807.33 L75.95,807.33 L76.34,807.33 L76.74,807.33 L77.13,807.33 L77.52,807.33 L77.91,807.33 L78.3,807.33 L78.69,807.33 L79.09,807.33 L79.48,807.33 L79.87,807.33 L80.26,807.33 L80.65,807.33 L81.05,807.33 L81.44,807.33 L81.83,807.33 L82.22,807.33 L82.61,807.33 L83,807.33 L83.4,807.33 L83.79,807.33 L84.18,807.33 L84.57,807.33 L84.96,807.33 L85.35,807.33 L85.75,807.33 L86.14,807.33 L86.53,807.33 L86.92,807.33 L87.31,807.33 L87.7,807.33 L88.1,807.33 L88.49,807.33 L88.88,807.33 L89.27,807.33 L89.66,807.33 L90.05,807.33 L90.45,807.33 L90.84,807.33 L91.23,807.33 L91.62,807.33 L92.01,807.33 L92.4,807.33 L92.8,807.33 L93.19,807.33 L93.58,807.33 L93.97,807.33 L94.36,807.33 L94.75,807.33 L95.15,807.33 L95.54,807.33 L95.93,807.33 L96.32,807.33 L96.71,807.33 L97.1,807.33 L97.5,807.33 L97.89,807.33 L98.28,807.33 L98.67,807.33 L99.06,807.33 L99.46,807.33 L99.85,807.33 L100.24,807.33 L100.63,807.33 L101.02,807.33 L101.41,807.33 L101.81,807.33 L102.2,807.33 L102.59,807.33 L102.98,807.33 L103.37,807.33 L103.76,807.33 L104.16,807.33 L104.55,807.33 L104.94,807.33 L105.33,807.33 L105.72,807.33 L106.11,807.33 L106.51,807.33 L106.9,807.33 L107.29,807.33 L107.68,807.33 L108.07,807.33 L108.46,807.33 L108.86,807.33 L109.25,807.33 L109.64,807.33 L110.03,807.33 L110.42,807.33 L110.81,807.33 L111.21,807.33 L111.6,807.33 L111.99,807.33 L112.38,807.33 L112.77,807.33 L113.16,807.33 L113.56,807.33 L113.95,807.33 L114.34,807.33 L114.73,807.33 L115.12,807.33 L115.51,807.33 L115.91,807.33 L116.3,807.33 L116.69,807.33 L117.08,807.33 L117.47,807.33 L117.86,807.33 L118.26,807.33 L118.65,807.33 L119.04,807.33 L119.43,807.33 L119.82,807.33 L120.22,807.33 L120.61,807.33 L121,807.33 L121.39,807.33 L121.78,807.33 L122.17,807.33 L122.57,807.33 L122.96,807.33 L123.35,807.33 L123.74,807.33 L124.13,807.33 L124.52,807.33 L124.92,807.33 L125.31,807.33 L125.7,807.33 L126.09,807.33 L126.48,807.33 L126.87,807.33 L127.27,807.33 L127.66,807.33 L128.05,807.33 L128.44,807.33 L128.83,807.33 L129.22,807.33 L129.62,807.33 L130.01,807.33 L130.4,807.33 L130.79,807.32 L131.18,807.32 L131.57,807.32 L131.97,807.32 L132.36,807.32 L132.75,807.32 L133.14,807.32 L133.53,807.32 L133.92,807.32 L134.32,807.31 L134.71,807.31 L135.1,807.31 L135.49,807.31 L135.88,807.3 L136.27,807.3 L136.67,807.3 L137.06,807.29 L137.45,807.29 L137.84,807.28 L138.23,807.27 L138.63,807.27 L139.02,807.26 L139.41,807.25 L139.8,807.24 L140.19,807.23 L140.58,807.21 L140.98,807.2 L141.37,807.18 L141.76,807.16 L142.15,807.14 L142.54,807.12 L142.93,807.1 L143.33,807.07 L143.72,807.04 L144.11,807.01 L144.5,806.98 L144.89,806.94 L145.28,806.9 L145.68,806.85 L146.07,806.8 L146.46,806.75 L146.85,806.69 L147.24,806.63 L147.63,806.56 L148.03,806.49 L148.42,806.41 L148.81,806.32 L149.2,806.23 L149.59,806.14 L149.98,806.03 L150.38,805.93 L150.77,805.81 L151.16,805.69 L151.55,805.56 L151.94,805.42 L152.33,805.28 L152.73,805.13 L153.12,804.97 L153.51,804.8 L153.9,804.63 L154.29,804.45 L154.68,804.26 L155.08,804.06 L155.47,803.86 L155.86,803.65 L156.25,803.44 L156.64,803.22 L157.03,802.99 L157.43,802.76 L157.82,802.52 L158.21,802.28 L158.6,802.03 L158.99,801.78 L159.39,801.53 L159.78,801.27 L160.17,801.02 L160.56,800.76 L160.95,800.5 L161.34,800.25 L161.74,799.99 L162.13,799.73 L162.52,799.48 L162.91,799.23 L163.3,798.98 L163.69,798.73 L164.09,798.49 L164.48,798.24 L164.87,798.01 L165.26,797.77 L165.65,797.54 L166.04,797.3 L166.44,797.07 L166.83,796.84 L167.22,796.6 L167.61,796.36 L168,796.12 L168.39,795.87 L168.79,795.61 L169.18,795.33 L169.57,795.04 L169.96,794.73 L170.35,794.39 L170.74,794.03 L171.14,793.63 L171.53,793.2 L171.92,792.73 L172.31,792.2 L172.7,791.63 L173.09,791 L173.49,790.3 L173.88,789.53 L174.27,788.68 L174.66,787.76 L175.05,786.75 L175.44,785.64 L175.84,784.44 L176.23,783.14 L176.62,781.73 L177.01,780.22 L177.4,778.59 L177.79,776.85 L178.19,775 L178.58,773.04 L178.97,770.97 L179.36,768.79 L179.75,766.51 L180.15,764.13 L180.54,761.66 L180.93,759.11 L181.32,756.48 L181.71,753.8 L182.1,751.06 L182.5,748.29 L182.89,745.5 L183.28,742.7 L183.67,739.91 L184.06,737.16 L184.45,734.45 L184.85,731.81 L185.24,729.25 L185.63,726.79 L186.02,724.46 L186.41,722.26 L186.8,720.23 L187.2,718.36 L187.59,716.69 L187.98,715.22 L188.37,713.96 L188.76,712.94 L189.15,712.14 L189.55,711.59 L189.94,711.29 L190.33,711.24 L190.72,711.4 L191.11,711.72 L191.5,712.21 L191.9,712.87 L192.29,713.68 L192.68,714.65 L193.07,715.76 L193.46,717.02 L193.85,718.42 L194.25,719.94 L194.64,721.58 L195.03,723.34 L195.42,725.2 L195.81,727.15 L196.2,729.19 L196.6,731.3 L196.99,733.48 L197.38,735.72 L197.77,738 L198.16,740.31 L198.56,742.65 L198.95,745.01 L199.34,747.37 L199.73,749.74 L200.12,752.09 L200.51,754.42 L200.91,756.72 L201.3,758.99 L201.69,761.21 L202.08,763.39 L202.47,765.52 L202.86,767.58 L203.26,769.59 L203.65,771.52 L204.04,773.39 L204.43,775.18 L204.82,776.9 L205.21,778.54 L205.61,780.1 L206,781.58 L206.39,782.99 L206.78,784.32 L207.17,785.57 L207.56,786.74 L207.96,787.84 L208.35,788.87 L208.74,789.83 L209.13,790.72 L209.52,791.54 L209.91,792.3 L210.31,793.01 L210.7,793.66 L211.09,794.25 L211.48,794.8 L211.87,795.31 L212.26,795.77 L212.66,796.2 L213.05,796.6 L213.44,796.97 L213.83,797.31 L214.22,797.64 L214.61,797.94 L215.01,798.23 L215.4,798.5 L215.79,798.77 L216.18,799.02 L216.57,799.27 L216.96,799.51 L217.36,799.74 L217.75,799.97 L218.14,800.19 L218.53,800.41 L218.92,800.63 L219.32,800.84 L219.71,801.04 L220.1,801.24 L220.49,801.44 L220.88,801.63 L221.27,801.82 L221.67,802.01 L222.06,802.19 L222.45,802.37 L222.84,802.55 L223.23,802.72 L223.62,802.88 L224.02,803.05 L224.41,803.21 L224.8,803.36 L225.19,803.52 L225.58,803.66 L225.97,803.81 L226.37,803.95 L226.76,804.08 L227.15,804.21 L227.54,804.33 L227.93,804.45 L228.32,804.57 L228.72,804.68 L229.11,804.79 L229.5,804.89 L229.89,804.99 L230.28,805.08 L230.67,805.17 L231.07,805.26 L231.46,805.35 L231.85,805.43 L232.24,805.51 L232.63,805.59 L233.02,805.67 L233.42,805.74 L233.81,805.82 L234.2,805.89 L234.59,805.96 L234.98,806.04 L235.37,806.11 L235.77,806.18 L236.16,806.24 L236.55,806.31 L236.94,806.37 L237.33,806.44 L237.73,806.5 L238.12,806.56 L238.51,806.61 L238.9,806.66 L239.29,806.71 L239.68,806.76 L240.08,806.8 L240.47,806.84 L240.86,806.87 L241.25,806.9 L241.64,806.93 L242.03,806.95 L242.43,806.97 L242.82,806.99 L243.21,807.01 L243.6,807.02 L243.99,807.03 L244.38,807.04 L244.78,807.05 L245.17,807.05 L245.56,807.06 L245.95,807.06 L246.34,807.06 L246.73,807.06 L247.13,807.07 L247.52,807.07 L247.91,807.07 L248.3,807.07 L248.69,807.07 L249.08,807.07 L249.48,807.07 L249.87,807.07 L250.26,807.07 L250.65,807.07 L251.04,807.07 L251.43,807.07 L251.83,807.07 L252.22,807.07 L252.61,807.07 L253,807.07 L253.39,807.07 L253.78,807.07 L254.18,807.07 L254.57,807.07 L254.96,807.07 L255.35,807.07 L255.74,807.07 L256.13,807.07 L256.53,807.07 L256.92,807.07 L257.31,807.07 L257.7,807.07 L258.09,807.07 L258.49,807.07 L258.88,807.07 L259.27,807.07 L259.66,807.07 L260.05,807.07 L260.44,807.07 L260.84,807.07 L261.23,807.07 L261.62,807.07 L262.01,807.07 L262.4,807.07 L262.79,807.07 L263.19,807.07 L263.58,807.07 L263.97,807.07 L264.36,807.07 L264.75,807.07 L265.14,807.07 L265.54,807.07 L265.93,807.07 L266.32,807.07 L266.71,807.07 L267.1,807.07 L267.49,807.07 L267.89,807.07 L268.28,807.07 L268.67,807.07 L269.06,807.07 L269.45,807.07 L269.84,807.07 L270.24,807.07 L270.63,807.07 L271.02,807.07 L271.41,807.07 L271.8,807.07 L272.19,807.07 L272.59,807.07 L272.98,807.07 L273.37,807.07 L273.76,807.07 L274.15,807.07 L274.54,807.07 L274.94,807.07 L275.33,807.07 L275.72,807.07" stroke="#111" stroke-width="1.25" fill="none" stroke-dasharray="5.2 2.9" stroke-linejoin="round"/>
<line x1="46" y1="36" x2="287" y2="36" stroke="#000" stroke-width="2.2" />
<text x="168.3" y="31.3" font-size="12" text-anchor="middle" fill="#111" >kDa</text>
<text x="121.6" y="297.8" font-size="10" text-anchor="start" fill="#333" >Elution volume (mL)</text>
<text x="120.6" y="586.2" font-size="10" text-anchor="start" fill="#333" >Elution Volume (mL)</text>
<text x="114.6" y="867.8" font-size="9.7" text-anchor="start" fill="#333" >Elution volume (mL)</text>
<text transform="translate(11.2,156.6) rotate(-90)" font-size="10" text-anchor="middle" fill="#333">Absorbance<tspan font-size="6" dy="2.5">280</tspan><tspan dy="-2.5"> (mAU)</tspan></text>
<text transform="translate(11.8,448) rotate(-90)" font-size="10" text-anchor="middle" fill="#333">Absorbance<tspan font-size="6" dy="2.5">280</tspan><tspan dy="-2.5"> (mAU)</tspan></text>
<text transform="translate(12.2,731.6) rotate(-90)" font-size="10" text-anchor="middle" fill="#333">Absorbance <tspan font-size="6" dy="2.5">280</tspan><tspan dy="-2.5"> (mAU)</tspan></text>
<text x="6.4" y="25.8" font-size="25.4" text-anchor="start" fill="#000" font-weight="bold" style="stroke:#000;stroke-width:0.8px">A</text>
<text x="5.8" y="313.5" font-size="24.4" text-anchor="start" fill="#000" font-weight="bold" style="stroke:#000;stroke-width:0.8px">B</text>
<text x="4.9" y="606" font-size="24.4" text-anchor="start" fill="#000" font-weight="bold" style="stroke:#000;stroke-width:0.8px">C</text>
<text x="300.5" y="26.9" font-size="24.4" text-anchor="start" fill="#000" font-weight="bold" style="stroke:#000;stroke-width:0.8px">D</text>
<text x="300.2" y="313.6" font-size="24.4" text-anchor="start" fill="#000" font-weight="bold" style="stroke:#000;stroke-width:0.8px">E</text>
<text x="300.2" y="606.1" font-size="24.4" text-anchor="start" fill="#000" font-weight="bold" style="stroke:#000;stroke-width:0.8px">F</text>
<rect x="62.8" y="135.4" width="15" height="70.8" fill="#afb7e6"/>
<path d="M65.4,152.62 Q70.15,154.96 74.9,152.62" stroke="#4a52ae" stroke-width="3.0" stroke-linecap="round" fill="none"/>
<path d="M66.9,153.01 Q70.15,154.96 73.4,153.01" stroke="#3d45a3" stroke-width="1.7999999999999998" stroke-linecap="round" fill="none"/>
<ellipse cx="70.5" cy="202.3" rx="4.5" ry="1.35" fill="#4b56b4"/>
<text transform="translate(58.4,145.9) scale(0.84,1)" font-size="8.8" text-anchor="end" fill="#111" style="stroke:#111;stroke-width:0.4px">250</text>
<rect x="60.2" y="141.9" width="2.2" height="1.8" fill="#000"/>
<text transform="translate(58.4,154.9) scale(0.84,1)" font-size="8.8" text-anchor="end" fill="#111" style="stroke:#111;stroke-width:0.4px">100</text>
<rect x="60.2" y="150.9" width="2.2" height="1.8" fill="#000"/>
<text transform="translate(58.4,162.7) scale(0.84,1)" font-size="8.8" text-anchor="end" fill="#111" style="stroke:#111;stroke-width:0.4px">75</text>
<rect x="60.2" y="158.7" width="2.2" height="1.8" fill="#000"/>
<text transform="translate(58.4,185.4) scale(0.84,1)" font-size="8.8" text-anchor="end" fill="#111" style="stroke:#111;stroke-width:0.4px">25</text>
<rect x="60.2" y="181.4" width="2.2" height="1.8" fill="#000"/>
<text transform="translate(58.4,206.9) scale(0.84,1)" font-size="8.8" text-anchor="end" fill="#111" style="stroke:#111;stroke-width:0.4px">15</text>
<rect x="60.2" y="202.9" width="2.2" height="1.8" fill="#000"/>
<rect x="78.2" y="152.2" width="3.0" height="1.8" fill="#000"/>
<text x="80.6" y="157.7" font-size="11.2" fill="#111">Flt3<tspan font-size="6.8" dy="2.9" fill="#333">D1-D5</tspan></text>
<rect x="78.2" y="201.4" width="3.0" height="1.8" fill="#000"/>
<text x="81" y="205.7" font-size="11.2" text-anchor="start" fill="#111" >FL</text>
<rect x="64.2" y="428.6" width="15.6" height="70.6" fill="#afb7e6"/>
<path d="M66.2,449.02 Q72.1,450.46 78,449.02" stroke="#4a52ae" stroke-width="3.0" stroke-linecap="round" fill="none"/>
<path d="M67.7,449.26 Q72.1,450.46 76.5,449.26" stroke="#3d45a3" stroke-width="1.7999999999999998" stroke-linecap="round" fill="none"/>
<ellipse cx="71.95" cy="496.2" rx="5.75" ry="1.35" fill="#4b56b4"/>
<text transform="translate(59.9,438.3) scale(0.84,1)" font-size="8.8" text-anchor="end" fill="#111" style="stroke:#111;stroke-width:0.4px">250</text>
<rect x="60.9" y="434.3" width="2.2" height="1.8" fill="#000"/>
<text transform="translate(59.9,447.2) scale(0.84,1)" font-size="8.8" text-anchor="end" fill="#111" style="stroke:#111;stroke-width:0.4px">100</text>
<rect x="60.9" y="443.2" width="2.2" height="1.8" fill="#000"/>
<text transform="translate(59.9,455.8) scale(0.84,1)" font-size="8.8" text-anchor="end" fill="#111" style="stroke:#111;stroke-width:0.4px">75</text>
<rect x="60.9" y="451.8" width="2.2" height="1.8" fill="#000"/>
<text transform="translate(59.9,477.3) scale(0.84,1)" font-size="8.8" text-anchor="end" fill="#111" style="stroke:#111;stroke-width:0.4px">25</text>
<rect x="60.9" y="473.3" width="2.2" height="1.8" fill="#000"/>
<text transform="translate(59.9,499.3) scale(0.84,1)" font-size="8.8" text-anchor="end" fill="#111" style="stroke:#111;stroke-width:0.4px">15</text>
<rect x="60.9" y="495.3" width="2.2" height="1.8" fill="#000"/>
<rect x="80.8" y="448.3" width="3.0" height="1.8" fill="#000"/>
<text x="84" y="453" font-size="11.2" fill="#111">Flt3<tspan font-size="6.8" dy="2.9" fill="#333">D1-D4</tspan></text>
<rect x="80.8" y="495.3" width="3.0" height="1.8" fill="#000"/>
<text x="84" y="499.8" font-size="11.2" text-anchor="start" fill="#111" >FL</text>
<rect x="64.8" y="713.2" width="15" height="70.6" fill="#afb7e6"/>
<path d="M67.3,738.7 Q72.05,739.6 76.8,738.7" stroke="#4a52ae" stroke-width="3.0" stroke-linecap="round" fill="none"/>
<path d="M68.8,738.85 Q72.05,739.6 75.3,738.85" stroke="#3d45a3" stroke-width="1.7999999999999998" stroke-linecap="round" fill="none"/>
<ellipse cx="71.15" cy="781.3" rx="4.35" ry="1.35" fill="#4b56b4"/>
<text transform="translate(60.6,722.6) scale(0.84,1)" font-size="8.8" text-anchor="end" fill="#111" style="stroke:#111;stroke-width:0.4px">250</text>
<rect x="62" y="718.6" width="2.2" height="1.8" fill="#000"/>
<text transform="translate(60.6,731.4) scale(0.84,1)" font-size="8.8" text-anchor="end" fill="#111" style="stroke:#111;stroke-width:0.4px">100</text>
<rect x="62" y="727.4" width="2.2" height="1.8" fill="#000"/>
<text transform="translate(60.6,739.7) scale(0.84,1)" font-size="8.8" text-anchor="end" fill="#111" style="stroke:#111;stroke-width:0.4px">75</text>
<rect x="62" y="735.7" width="2.2" height="1.8" fill="#000"/>
<text transform="translate(60.6,762.4) scale(0.84,1)" font-size="8.8" text-anchor="end" fill="#111" style="stroke:#111;stroke-width:0.4px">25</text>
<rect x="62" y="758.4" width="2.2" height="1.8" fill="#000"/>
<text transform="translate(60.6,784.2) scale(0.84,1)" font-size="8.8" text-anchor="end" fill="#111" style="stroke:#111;stroke-width:0.4px">15</text>
<rect x="62" y="780.2" width="2.2" height="1.8" fill="#000"/>
<rect x="80.2" y="737.8" width="3.0" height="1.8" fill="#000"/>
<text x="84" y="743.8" font-size="11.2" fill="#111">Flt3<tspan font-size="6.8" dy="2.9" fill="#333">D1-D3</tspan></text>
<rect x="80.2" y="780.4" width="3.0" height="1.8" fill="#000"/>
<text x="84" y="785.4" font-size="11.2" text-anchor="start" fill="#111" >FL</text>
<ellipse cx="74.5" cy="121.2" rx="4" ry="6.2" fill="#f37034" stroke="#0a140e" stroke-width="1.2" transform="rotate(-10 74.5 121.2)"/>
<ellipse cx="67" cy="107" rx="3" ry="2.2" fill="#f37034" stroke="#0a140e" stroke-width="1.2"/>
<ellipse cx="69.8" cy="110.8" rx="6" ry="3.9" fill="#1faa55" stroke="#0a140e" stroke-width="1.2" transform="rotate(-15 69.8 110.8)"/>
<ellipse cx="67" cy="100" rx="3.5" ry="5" fill="#1faa55" stroke="#0a140e" stroke-width="1.2" transform="rotate(15 67 100)"/>
<ellipse cx="72" cy="101.6" rx="4.5" ry="5.8" fill="#1faa55" stroke="#0a140e" stroke-width="1.2" transform="rotate(-35 72 101.6)"/>
<ellipse cx="87.7" cy="121.6" rx="3.9" ry="5.8" fill="#f37034" stroke="#0a140e" stroke-width="1.2" transform="rotate(15 87.7 121.6)"/>
<ellipse cx="93.8" cy="110.8" rx="4.2" ry="5.4" fill="#f37034" stroke="#0a140e" stroke-width="1.2" transform="rotate(25 93.8 110.8)"/>
<ellipse cx="86" cy="112.2" rx="3.7" ry="6" fill="#1faa55" stroke="#0a140e" stroke-width="1.2"/>
<ellipse cx="88.9" cy="102.6" rx="3.5" ry="4.3" fill="#1faa55" stroke="#0a140e" stroke-width="1.2"/>
<ellipse cx="94.6" cy="99.9" rx="4.2" ry="5.4" fill="#1faa55" stroke="#0a140e" stroke-width="1.2" transform="rotate(25 94.6 99.9)"/>
<ellipse cx="88.5" cy="92" rx="7.6" ry="4.3" fill="#1aa8ec" stroke="#0d3c6e" stroke-width="1.2"/>
<ellipse cx="73.7" cy="92" rx="7.4" ry="4.2" fill="#1aa8ec" stroke="#0d3c6e" stroke-width="1.2"/>
<ellipse cx="67.4" cy="407.5" rx="3" ry="2.2" fill="#f37034" stroke="#0a140e" stroke-width="1.2"/>
<ellipse cx="70.2" cy="411.3" rx="6" ry="3.9" fill="#1faa55" stroke="#0a140e" stroke-width="1.2" transform="rotate(-15 70.2 411.3)"/>
<ellipse cx="67.4" cy="400.5" rx="3.5" ry="5" fill="#1faa55" stroke="#0a140e" stroke-width="1.2" transform="rotate(15 67.4 400.5)"/>
<ellipse cx="72.4" cy="402.1" rx="4.5" ry="5.8" fill="#1faa55" stroke="#0a140e" stroke-width="1.2" transform="rotate(-35 72.4 402.1)"/>
<ellipse cx="94.2" cy="411.3" rx="4.2" ry="5.4" fill="#f37034" stroke="#0a140e" stroke-width="1.2" transform="rotate(25 94.2 411.3)"/>
<ellipse cx="86.4" cy="412.7" rx="3.7" ry="6" fill="#1faa55" stroke="#0a140e" stroke-width="1.2"/>
<ellipse cx="89.3" cy="403.1" rx="3.5" ry="4.3" fill="#1faa55" stroke="#0a140e" stroke-width="1.2"/>
<ellipse cx="95" cy="400.4" rx="4.2" ry="5.4" fill="#1faa55" stroke="#0a140e" stroke-width="1.2" transform="rotate(25 95 400.4)"/>
<ellipse cx="88.9" cy="392.5" rx="7.6" ry="4.3" fill="#1aa8ec" stroke="#0d3c6e" stroke-width="1.2"/>
<ellipse cx="74.1" cy="392.5" rx="7.4" ry="4.2" fill="#1aa8ec" stroke="#0d3c6e" stroke-width="1.2"/>
<ellipse cx="201.8" cy="115.5" rx="4" ry="6.1" fill="#f37034" stroke="#0a140e" stroke-width="1.2" transform="rotate(15 201.8 115.5)"/>
<ellipse cx="206" cy="104" rx="4.2" ry="5.8" fill="#f37034" stroke="#0a140e" stroke-width="1.2" transform="rotate(20 206 104)"/>
<ellipse cx="194.2" cy="103.8" rx="6" ry="4" fill="#1faa55" stroke="#0a140e" stroke-width="1.2" transform="rotate(-30 194.2 103.8)"/>
<ellipse cx="201.5" cy="95.1" rx="3.5" ry="4.6" fill="#1faa55" stroke="#0a140e" stroke-width="1.2" transform="rotate(-20 201.5 95.1)"/>
<ellipse cx="207.4" cy="92.5" rx="4.5" ry="6.1" fill="#1faa55" stroke="#0a140e" stroke-width="1.2" transform="rotate(-20 207.4 92.5)"/>
<ellipse cx="216.9" cy="402" rx="4.2" ry="5.8" fill="#f37034" stroke="#0a140e" stroke-width="1.2" transform="rotate(20 216.9 402)"/>
<ellipse cx="205.1" cy="401.8" rx="6" ry="4" fill="#1faa55" stroke="#0a140e" stroke-width="1.2" transform="rotate(-30 205.1 401.8)"/>
<ellipse cx="212.4" cy="393.1" rx="3.5" ry="4.6" fill="#1faa55" stroke="#0a140e" stroke-width="1.2" transform="rotate(-20 212.4 393.1)"/>
<ellipse cx="218.3" cy="390.5" rx="4.5" ry="6.1" fill="#1faa55" stroke="#0a140e" stroke-width="1.2" transform="rotate(-20 218.3 390.5)"/>
<ellipse cx="248.8" cy="155.5" rx="7.8" ry="4.4" fill="#1aa8ec" stroke="#0d3c6e" stroke-width="1.2"/>
<ellipse cx="234.7" cy="155.5" rx="7.8" ry="4.4" fill="#1aa8ec" stroke="#0d3c6e" stroke-width="1.2"/>
<ellipse cx="236.2" cy="508.3" rx="7.6" ry="4.2" fill="#1aa8ec" stroke="#0d3c6e" stroke-width="1.2"/>
<ellipse cx="221.4" cy="508.3" rx="7.6" ry="4.2" fill="#1aa8ec" stroke="#0d3c6e" stroke-width="1.2"/>
<ellipse cx="234.2" cy="643.9" rx="7.6" ry="4.2" fill="#1aa8ec" stroke="#0d3c6e" stroke-width="1.2"/>
<ellipse cx="218.8" cy="643.9" rx="7.6" ry="4.2" fill="#1aa8ec" stroke="#0d3c6e" stroke-width="1.2"/>
<ellipse cx="125.8" cy="706" rx="6.2" ry="3.9" fill="#1faa55" stroke="#0a140e" stroke-width="1.2" transform="rotate(-20 125.8 706)"/>
<ellipse cx="122.2" cy="695.5" rx="2.8" ry="4.8" fill="#1faa55" stroke="#0a140e" stroke-width="1.2" transform="rotate(20 122.2 695.5)"/>
<ellipse cx="128.2" cy="696.9" rx="4" ry="6" fill="#1faa55" stroke="#0a140e" stroke-width="1.2" transform="rotate(-40 128.2 696.9)"/>
<ellipse cx="141.5" cy="708" rx="3.5" ry="6.3" fill="#1faa55" stroke="#0a140e" stroke-width="1.2"/>
<ellipse cx="144.9" cy="697.4" rx="3.2" ry="4.5" fill="#1faa55" stroke="#0a140e" stroke-width="1.2"/>
<ellipse cx="151.4" cy="694.9" rx="4" ry="5.8" fill="#1faa55" stroke="#0a140e" stroke-width="1.2" transform="rotate(30 151.4 694.9)"/>
<ellipse cx="144.5" cy="687.2" rx="7.6" ry="4.1" fill="#1aa8ec" stroke="#0d3c6e" stroke-width="1.2"/>
<ellipse cx="129.9" cy="687" rx="7" ry="4" fill="#1aa8ec" stroke="#0d3c6e" stroke-width="1.2"/>
<ellipse cx="177.3" cy="678.8" rx="6.2" ry="3.9" fill="#1faa55" stroke="#0a140e" stroke-width="1.2" transform="rotate(-35 177.3 678.8)"/>
<ellipse cx="184.7" cy="669.8" rx="3.5" ry="4.8" fill="#1faa55" stroke="#0a140e" stroke-width="1.2" transform="rotate(-30 184.7 669.8)"/>
<ellipse cx="190.2" cy="667" rx="4.2" ry="6" fill="#1faa55" stroke="#0a140e" stroke-width="1.2" transform="rotate(-25 190.2 667)"/>
<text y="77.8" font-size="12.3" fill="#111"><tspan x="44.7" letter-spacing="0.4">(Flt3</tspan><tspan x="70.6" y="80.4" font-size="7.4" fill="#3b6fb6">D1-D5</tspan><tspan x="91.5" y="77.8">)</tspan><tspan x="96" y="82.6" font-size="7.7">2</tspan><tspan x="102.5" y="78.2">.</tspan><tspan x="109.6">FL</tspan></text>
<text y="376.8" font-size="12.3" fill="#111"><tspan x="46.1" letter-spacing="0.4">(Flt3</tspan><tspan x="71.7" y="379.9" font-size="7.4" fill="#333">D1-D4</tspan><tspan x="93" y="376.8">)</tspan><tspan x="95.8" y="382.3" font-size="7.7">2</tspan><tspan x="102.3" y="378">.</tspan><tspan x="107.4">FL</tspan></text>
<text y="672.6" font-size="11.8" fill="#111"><tspan x="90.7" letter-spacing="0.6">(Flt3</tspan><tspan x="116.3" y="676.6" font-size="7.6" fill="#333">D1-D3</tspan><tspan x="137.6" y="672.6">)</tspan><tspan x="141.5" y="676.8" font-size="7.8999999999999995">2</tspan><tspan x="150.3" y="673.2">.</tspan><tspan x="156.3">FL</tspan></text>
<text x="182.9" y="77.5" font-size="12.2" fill="#111">Flt3<tspan x="204.2" y="82.5" font-size="7.2" fill="#333">D1-D5</tspan></text>
<text x="193.8" y="376.7" font-size="12.2" fill="#111">Flt3<tspan x="214.8" y="380.6" font-size="7.2" fill="#333">D1-D4</tspan></text>
<text x="167.9" y="652.9" font-size="12.2" fill="#111">Flt3<tspan x="188.9" y="656.7" font-size="7.2" fill="#333">D1-D3</tspan></text>
<text transform="translate(234.9,146.5) scale(0.88,1)" font-size="12.6" fill="#111">FL</text>
<text transform="translate(222.6,499.1) scale(0.88,1)" font-size="12.6" fill="#111">FL</text>
<text transform="translate(247.6,648.9) scale(0.95,1)" font-size="12.6" fill="#111">FL</text>
<rect x="355.3" y="32.8" width="157" height="228.2" fill="none" stroke="#222" stroke-width="1"/>
<line x1="355.3" y1="146.9" x2="512.3" y2="146.9" stroke="#222" stroke-width="1" />
<line x1="355.7" y1="32.8" x2="355.7" y2="35.4" stroke="#222" stroke-width="0.8" />
<text x="355.7" y="28" font-size="6.4" text-anchor="middle" fill="#444" class="n">-10</text>
<line x1="362.2" y1="32.8" x2="362.2" y2="34.4" stroke="#222" stroke-width="0.7" />
<line x1="368.7" y1="32.8" x2="368.7" y2="35.4" stroke="#222" stroke-width="0.8" />
<text x="368.7" y="28" font-size="6.4" text-anchor="middle" fill="#444" class="n">0</text>
<line x1="375.2" y1="32.8" x2="375.2" y2="34.4" stroke="#222" stroke-width="0.7" />
<line x1="381.7" y1="32.8" x2="381.7" y2="35.4" stroke="#222" stroke-width="0.8" />
<text x="381.7" y="28" font-size="6.4" text-anchor="middle" fill="#444" class="n">10</text>
<line x1="388.2" y1="32.8" x2="388.2" y2="34.4" stroke="#222" stroke-width="0.7" />
<line x1="394.7" y1="32.8" x2="394.7" y2="35.4" stroke="#222" stroke-width="0.8" />
<text x="394.7" y="28" font-size="6.4" text-anchor="middle" fill="#444" class="n">20</text>
<line x1="401.2" y1="32.8" x2="401.2" y2="34.4" stroke="#222" stroke-width="0.7" />
<line x1="407.7" y1="32.8" x2="407.7" y2="35.4" stroke="#222" stroke-width="0.8" />
<text x="407.7" y="28" font-size="6.4" text-anchor="middle" fill="#444" class="n">30</text>
<line x1="414.2" y1="32.8" x2="414.2" y2="34.4" stroke="#222" stroke-width="0.7" />
<line x1="420.7" y1="32.8" x2="420.7" y2="35.4" stroke="#222" stroke-width="0.8" />
<text x="420.7" y="28" font-size="6.4" text-anchor="middle" fill="#444" class="n">40</text>
<line x1="427.2" y1="32.8" x2="427.2" y2="34.4" stroke="#222" stroke-width="0.7" />
<line x1="433.7" y1="32.8" x2="433.7" y2="35.4" stroke="#222" stroke-width="0.8" />
<text x="433.7" y="28" font-size="6.4" text-anchor="middle" fill="#444" class="n">50</text>
<line x1="440.2" y1="32.8" x2="440.2" y2="34.4" stroke="#222" stroke-width="0.7" />
<line x1="446.7" y1="32.8" x2="446.7" y2="35.4" stroke="#222" stroke-width="0.8" />
<text x="446.7" y="28" font-size="6.4" text-anchor="middle" fill="#444" class="n">60</text>
<line x1="453.2" y1="32.8" x2="453.2" y2="34.4" stroke="#222" stroke-width="0.7" />
<line x1="459.7" y1="32.8" x2="459.7" y2="35.4" stroke="#222" stroke-width="0.8" />
<text x="459.7" y="28" font-size="6.4" text-anchor="middle" fill="#444" class="n">70</text>
<line x1="466.2" y1="32.8" x2="466.2" y2="34.4" stroke="#222" stroke-width="0.7" />
<line x1="472.7" y1="32.8" x2="472.7" y2="35.4" stroke="#222" stroke-width="0.8" />
<text x="472.7" y="28" font-size="6.4" text-anchor="middle" fill="#444" class="n">80</text>
<line x1="479.2" y1="32.8" x2="479.2" y2="34.4" stroke="#222" stroke-width="0.7" />
<line x1="485.7" y1="32.8" x2="485.7" y2="35.4" stroke="#222" stroke-width="0.8" />
<text x="485.7" y="28" font-size="6.4" text-anchor="middle" fill="#444" class="n">90</text>
<line x1="492.2" y1="32.8" x2="492.2" y2="34.4" stroke="#222" stroke-width="0.7" />
<line x1="498.7" y1="32.8" x2="498.7" y2="35.4" stroke="#222" stroke-width="0.8" />
<text x="498.7" y="28" font-size="6.4" text-anchor="middle" fill="#444" class="n">100</text>
<line x1="505.2" y1="32.8" x2="505.2" y2="34.4" stroke="#222" stroke-width="0.7" />
<line x1="511.7" y1="32.8" x2="511.7" y2="35.4" stroke="#222" stroke-width="0.8" />
<text x="511.7" y="28" font-size="6.4" text-anchor="middle" fill="#444" class="n">110</text>
<line x1="352.3" y1="41.8" x2="355.3" y2="41.8" stroke="#222" stroke-width="0.9" />
<line x1="510.3" y1="41.8" x2="512.3" y2="41.8" stroke="#222" stroke-width="0.7" />
<text x="349.7" y="44.1" font-size="6.4" text-anchor="end" fill="#444" class="n">0.00</text>
<line x1="352.3" y1="60.8" x2="355.3" y2="60.8" stroke="#222" stroke-width="0.9" />
<line x1="510.3" y1="60.8" x2="512.3" y2="60.8" stroke="#222" stroke-width="0.7" />
<text x="349.7" y="63.1" font-size="6.4" text-anchor="end" fill="#444" class="n">-0.05</text>
<line x1="352.3" y1="79.8" x2="355.3" y2="79.8" stroke="#222" stroke-width="0.9" />
<line x1="510.3" y1="79.8" x2="512.3" y2="79.8" stroke="#222" stroke-width="0.7" />
<text x="349.7" y="82.1" font-size="6.4" text-anchor="end" fill="#444" class="n">-0.10</text>
<line x1="352.3" y1="98.8" x2="355.3" y2="98.8" stroke="#222" stroke-width="0.9" />
<line x1="510.3" y1="98.8" x2="512.3" y2="98.8" stroke="#222" stroke-width="0.7" />
<text x="349.7" y="101.1" font-size="6.4" text-anchor="end" fill="#444" class="n">-0.15</text>
<line x1="352.3" y1="117.8" x2="355.3" y2="117.8" stroke="#222" stroke-width="0.9" />
<line x1="510.3" y1="117.8" x2="512.3" y2="117.8" stroke="#222" stroke-width="0.7" />
<text x="349.7" y="120.1" font-size="6.4" text-anchor="end" fill="#444" class="n">-0.20</text>
<line x1="352.3" y1="136.8" x2="355.3" y2="136.8" stroke="#222" stroke-width="0.9" />
<line x1="510.3" y1="136.8" x2="512.3" y2="136.8" stroke="#222" stroke-width="0.7" />
<text x="349.7" y="139.1" font-size="6.4" text-anchor="end" fill="#444" class="n">-0.25</text>
<line x1="353.5" y1="51.3" x2="355.3" y2="51.3" stroke="#222" stroke-width="0.7" />
<line x1="510.9" y1="51.3" x2="512.3" y2="51.3" stroke="#222" stroke-width="0.6" />
<line x1="353.5" y1="70.3" x2="355.3" y2="70.3" stroke="#222" stroke-width="0.7" />
<line x1="510.9" y1="70.3" x2="512.3" y2="70.3" stroke="#222" stroke-width="0.6" />
<line x1="353.5" y1="89.3" x2="355.3" y2="89.3" stroke="#222" stroke-width="0.7" />
<line x1="510.9" y1="89.3" x2="512.3" y2="89.3" stroke="#222" stroke-width="0.6" />
<line x1="353.5" y1="108.3" x2="355.3" y2="108.3" stroke="#222" stroke-width="0.7" />
<line x1="510.9" y1="108.3" x2="512.3" y2="108.3" stroke="#222" stroke-width="0.6" />
<line x1="353.5" y1="127.3" x2="355.3" y2="127.3" stroke="#222" stroke-width="0.7" />
<line x1="510.9" y1="127.3" x2="512.3" y2="127.3" stroke="#222" stroke-width="0.6" />
<linearGradient id="g32" gradientUnits="userSpaceOnUse" x1="0" y1="41.8" x2="0" y2="133"><stop offset="0" stop-color="#6a6a6a"/><stop offset="1" stop-color="#a8a8a8"/></linearGradient>
<path d="M369.35,41.8 L370,41.8 L370.4,94.24 L370.9,57.53 L371.6,44.95 L372.6,41.8 L376.58,41.8 L376.98,133 L377.48,69.16 L378.18,47.27 L379.18,41.8 L383.16,41.8 L383.56,129.96 L384.06,68.25 L384.76,47.09 L385.76,41.8 L389.73,41.8 L390.13,117.8 L390.63,64.6 L391.33,46.36 L392.33,41.8 L396.31,41.8 L396.71,98.8 L397.21,58.9 L397.91,45.22 L398.91,41.8 L402.89,41.8 L403.29,74.86 L403.79,51.72 L404.49,43.78 L405.49,41.8 L409.47,41.8 L409.87,58.9 L410.37,46.93 L411.07,42.83 L412.07,41.8 L416.05,41.8 L416.45,54.72 L416.95,45.68 L417.65,42.58 L418.65,41.8 L422.62,41.8 L423.02,51.3 L423.52,44.65 L424.22,42.37 L425.22,41.8 L429.2,41.8 L429.6,50.92 L430.1,44.54 L430.8,42.35 L431.8,41.8 L435.78,41.8 L436.18,50.16 L436.68,44.31 L437.38,42.3 L438.38,41.8 L442.36,41.8 L442.76,50.16 L443.26,44.31 L443.96,42.3 L444.96,41.8 L448.94,41.8 L449.34,49.78 L449.84,44.19 L450.54,42.28 L451.54,41.8 L455.51,41.8 L455.91,49.78 L456.41,44.19 L457.11,42.28 L458.11,41.8 L462.09,41.8 L462.49,49.4 L462.99,44.08 L463.69,42.26 L464.69,41.8 L468.67,41.8 L469.07,49.4 L469.57,44.08 L470.27,42.26 L471.27,41.8 L475.25,41.8 L475.65,49.4 L476.15,44.08 L476.85,42.26 L477.85,41.8 L481.83,41.8 L482.23,49.4 L482.73,44.08 L483.43,42.26 L484.43,41.8 L488.4,41.8 L488.8,49.02 L489.3,43.97 L490,42.23 L491,41.8 L494.98,41.8 L495.38,49.02 L495.88,43.97 L496.58,42.23 L497.58,41.8 L500,41.8" fill="none" stroke="url(#g32)" stroke-width="0.75" stroke-linejoin="round"/>
<line x1="369.5" y1="41.8" x2="500" y2="41.8" stroke="#333" stroke-width="0.9" />
<path d="M367,41.8 L368.2,40 L369.1,41.2 L369.8,40.4 L370.3,41.8 M373.58,41.8 L374.78,40 L375.68,41.2 L376.38,40.4 L376.88,41.8 M380.16,41.8 L381.36,40 L382.26,41.2 L382.96,40.4 L383.46,41.8 M386.73,41.8 L387.93,40 L388.83,41.2 L389.53,40.4 L390.03,41.8 M393.31,41.8 L394.51,40 L395.41,41.2 L396.11,40.4 L396.61,41.8 M399.89,41.8 L401.09,40 L401.99,41.2 L402.69,40.4 L403.19,41.8 M406.47,41.8 L407.67,40 L408.57,41.2 L409.27,40.4 L409.77,41.8 M413.05,41.8 L414.25,40 L415.15,41.2 L415.85,40.4 L416.35,41.8 M419.62,41.8 L420.82,40 L421.72,41.2 L422.42,40.4 L422.92,41.8 M426.2,41.8 L427.4,40 L428.3,41.2 L429,40.4 L429.5,41.8 M432.78,41.8 L433.98,40 L434.88,41.2 L435.58,40.4 L436.08,41.8 M439.36,41.8 L440.56,40 L441.46,41.2 L442.16,40.4 L442.66,41.8 M445.94,41.8 L447.14,40 L448.04,41.2 L448.74,40.4 L449.24,41.8 M452.51,41.8 L453.71,40 L454.61,41.2 L455.31,40.4 L455.81,41.8 M459.09,41.8 L460.29,40 L461.19,41.2 L461.89,40.4 L462.39,41.8 M465.67,41.8 L466.87,40 L467.77,41.2 L468.47,40.4 L468.97,41.8 M472.25,41.8 L473.45,40 L474.35,41.2 L475.05,40.4 L475.55,41.8 M478.83,41.8 L480.03,40 L480.93,41.2 L481.63,40.4 L482.13,41.8 M485.4,41.8 L486.6,40 L487.5,41.2 L488.2,40.4 L488.7,41.8 M491.98,41.8 L493.18,40 L494.08,41.2 L494.78,40.4 L495.28,41.8" fill="none" stroke="#333" stroke-width="0.8"/>
<line x1="352.3" y1="156" x2="355.3" y2="156" stroke="#222" stroke-width="0.9" />
<line x1="510.3" y1="156" x2="512.3" y2="156" stroke="#222" stroke-width="0.7" />
<text x="349.7" y="158.3" font-size="6.4" text-anchor="end" fill="#444" class="n">0</text>
<line x1="352.3" y1="175.1" x2="355.3" y2="175.1" stroke="#222" stroke-width="0.9" />
<line x1="510.3" y1="175.1" x2="512.3" y2="175.1" stroke="#222" stroke-width="0.7" />
<text x="349.7" y="177.4" font-size="6.4" text-anchor="end" fill="#444" class="n">-10</text>
<line x1="352.3" y1="194.2" x2="355.3" y2="194.2" stroke="#222" stroke-width="0.9" />
<line x1="510.3" y1="194.2" x2="512.3" y2="194.2" stroke="#222" stroke-width="0.7" />
<text x="349.7" y="196.5" font-size="6.4" text-anchor="end" fill="#444" class="n">-20</text>
<line x1="352.3" y1="213.3" x2="355.3" y2="213.3" stroke="#222" stroke-width="0.9" />
<line x1="510.3" y1="213.3" x2="512.3" y2="213.3" stroke="#222" stroke-width="0.7" />
<text x="349.7" y="215.6" font-size="6.4" text-anchor="end" fill="#444" class="n">-30</text>
<line x1="352.3" y1="232.4" x2="355.3" y2="232.4" stroke="#222" stroke-width="0.9" />
<line x1="510.3" y1="232.4" x2="512.3" y2="232.4" stroke="#222" stroke-width="0.7" />
<text x="349.7" y="234.7" font-size="6.4" text-anchor="end" fill="#444" class="n">-40</text>
<line x1="352.3" y1="251.5" x2="355.3" y2="251.5" stroke="#222" stroke-width="0.9" />
<line x1="510.3" y1="251.5" x2="512.3" y2="251.5" stroke="#222" stroke-width="0.7" />
<text x="349.7" y="253.8" font-size="6.4" text-anchor="end" fill="#444" class="n">-50</text>
<line x1="353.5" y1="165.55" x2="355.3" y2="165.55" stroke="#222" stroke-width="0.7" />
<line x1="510.9" y1="165.55" x2="512.3" y2="165.55" stroke="#222" stroke-width="0.6" />
<line x1="353.5" y1="184.65" x2="355.3" y2="184.65" stroke="#222" stroke-width="0.7" />
<line x1="510.9" y1="184.65" x2="512.3" y2="184.65" stroke="#222" stroke-width="0.6" />
<line x1="353.5" y1="203.75" x2="355.3" y2="203.75" stroke="#222" stroke-width="0.7" />
<line x1="510.9" y1="203.75" x2="512.3" y2="203.75" stroke="#222" stroke-width="0.6" />
<line x1="353.5" y1="222.85" x2="355.3" y2="222.85" stroke="#222" stroke-width="0.7" />
<line x1="510.9" y1="222.85" x2="512.3" y2="222.85" stroke="#222" stroke-width="0.6" />
<line x1="353.5" y1="241.95" x2="355.3" y2="241.95" stroke="#222" stroke-width="0.7" />
<line x1="510.9" y1="241.95" x2="512.3" y2="241.95" stroke="#222" stroke-width="0.6" />
<line x1="371.2" y1="261" x2="371.2" y2="264" stroke="#222" stroke-width="0.9" />
<line x1="371.2" y1="146.9" x2="371.2" y2="149.1" stroke="#222" stroke-width="0.7" />
<text x="371.2" y="271.6" font-size="6.4" text-anchor="middle" fill="#444" class="n">0.0</text>
<line x1="402.5" y1="261" x2="402.5" y2="264" stroke="#222" stroke-width="0.9" />
<line x1="402.5" y1="146.9" x2="402.5" y2="149.1" stroke="#222" stroke-width="0.7" />
<text x="402.5" y="271.6" font-size="6.4" text-anchor="middle" fill="#444" class="n">0.5</text>
<line x1="433.8" y1="261" x2="433.8" y2="264" stroke="#222" stroke-width="0.9" />
<line x1="433.8" y1="146.9" x2="433.8" y2="149.1" stroke="#222" stroke-width="0.7" />
<text x="433.8" y="271.6" font-size="6.4" text-anchor="middle" fill="#444" class="n">1.0</text>
<line x1="465.1" y1="261" x2="465.1" y2="264" stroke="#222" stroke-width="0.9" />
<line x1="465.1" y1="146.9" x2="465.1" y2="149.1" stroke="#222" stroke-width="0.7" />
<text x="465.1" y="271.6" font-size="6.4" text-anchor="middle" fill="#444" class="n">1.5</text>
<line x1="496.4" y1="261" x2="496.4" y2="264" stroke="#222" stroke-width="0.9" />
<line x1="496.4" y1="146.9" x2="496.4" y2="149.1" stroke="#222" stroke-width="0.7" />
<text x="496.4" y="271.6" font-size="6.4" text-anchor="middle" fill="#444" class="n">2.0</text>
<line x1="386.85" y1="261" x2="386.85" y2="262.8" stroke="#222" stroke-width="0.7" />
<line x1="386.85" y1="146.9" x2="386.85" y2="148.3" stroke="#222" stroke-width="0.6" />
<line x1="418.15" y1="261" x2="418.15" y2="262.8" stroke="#222" stroke-width="0.7" />
<line x1="418.15" y1="146.9" x2="418.15" y2="148.3" stroke="#222" stroke-width="0.6" />
<line x1="449.45" y1="261" x2="449.45" y2="262.8" stroke="#222" stroke-width="0.7" />
<line x1="449.45" y1="146.9" x2="449.45" y2="148.3" stroke="#222" stroke-width="0.6" />
<line x1="480.75" y1="261" x2="480.75" y2="262.8" stroke="#222" stroke-width="0.7" />
<line x1="480.75" y1="146.9" x2="480.75" y2="148.3" stroke="#222" stroke-width="0.6" />
<path d="M371.5,252.3 C372.58,252.18 375.82,252.23 378,251.6 C380.18,250.97 382.53,250.43 384.6,248.5 C386.67,246.57 388.42,244.42 390.4,240 C392.38,235.58 394.47,230 396.5,222 C398.53,214 400.6,200.33 402.6,192 C404.6,183.67 406.57,177 408.5,172 C410.43,167 412.18,164.33 414.2,162 C416.22,159.67 417.97,158.9 420.6,158 C423.23,157.1 425.1,156.88 430,156.6 C434.9,156.32 440.33,156.37 450,156.3 C459.67,156.23 481.67,156.22 488,156.2" fill="none" stroke="#aaa" stroke-width="0.8"/>
<rect x="376.75" y="250.25" width="3.1" height="3.1" fill="#000"/>
<rect x="383.05" y="248.15" width="3.1" height="3.1" fill="#000"/>
<rect x="388.85" y="239.75" width="3.1" height="3.1" fill="#000"/>
<rect x="394.95" y="224.05" width="3.1" height="3.1" fill="#000"/>
<rect x="401.05" y="190.35" width="3.1" height="3.1" fill="#000"/>
<rect x="406.95" y="167.95" width="3.1" height="3.1" fill="#000"/>
<rect x="412.65" y="162.15" width="3.1" height="3.1" fill="#000"/>
<rect x="419.05" y="155.25" width="3.1" height="3.1" fill="#000"/>
<rect x="424.95" y="156.85" width="3.1" height="3.1" fill="#000"/>
<rect x="430.95" y="155.05" width="3.1" height="3.1" fill="#000"/>
<rect x="437.15" y="155.25" width="3.1" height="3.1" fill="#000"/>
<rect x="443.45" y="154.05" width="3.1" height="3.1" fill="#000"/>
<rect x="449.95" y="155.65" width="3.1" height="3.1" fill="#000"/>
<rect x="456.05" y="154.65" width="3.1" height="3.1" fill="#000"/>
<rect x="462.55" y="154.75" width="3.1" height="3.1" fill="#000"/>
<rect x="468.95" y="153.65" width="3.1" height="3.1" fill="#000"/>
<rect x="475.35" y="153.65" width="3.1" height="3.1" fill="#000"/>
<rect x="481.75" y="155.65" width="3.1" height="3.1" fill="#000"/>
<text x="413.1" y="13.8" font-size="9" text-anchor="start" fill="#2a2a2a" class="n">Time (min)</text>
<text x="410.8" y="285.6" font-size="9.2" text-anchor="start" fill="#2a2a2a" class="n">Molar Ratio</text>
<text transform="translate(327.4,94.8) rotate(-90)" font-size="8.8" text-anchor="middle" fill="#2a2a2a" class="n">µcal/sec</text>
<text transform="translate(334,209.3) rotate(-90)" font-size="8.1" text-anchor="middle" fill="#2a2a2a" class="n" textLength="82.6" lengthAdjust="spacingAndGlyphs">kcal/mole of injectant</text>
<text x="400.2" y="218.9" font-size="11.1" fill="#111">ΔH = - 51.7 kcal mol<tspan font-size="6" dy="-4">-1</tspan></text>
<text x="400.2" y="231.8" font-size="11.1" fill="#111">ΔS = - 130 cal mol<tspan font-size="6" dy="-4">-1</tspan><tspan dy="4">K</tspan><tspan font-size="6" dy="-4">-1</tspan></text>
<text x="400.2" y="244.7" font-size="11.1" text-anchor="start" fill="#111" >Kd = 8.7 nM</text>
<text x="400.2" y="257.6" font-size="11.1" text-anchor="start" fill="#111" >N = 0.42</text>
<rect x="355.3" y="325.6" width="156.7" height="227.3" fill="none" stroke="#222" stroke-width="1"/>
<line x1="355.3" y1="439.2" x2="512" y2="439.2" stroke="#222" stroke-width="1" />
<line x1="355.74" y1="325.6" x2="355.74" y2="328.2" stroke="#222" stroke-width="0.8" />
<text x="355.74" y="320.6" font-size="6.4" text-anchor="middle" fill="#444" class="n">-10</text>
<line x1="361.12" y1="325.6" x2="361.12" y2="327.2" stroke="#222" stroke-width="0.7" />
<line x1="366.5" y1="325.6" x2="366.5" y2="328.2" stroke="#222" stroke-width="0.8" />
<text x="366.5" y="320.6" font-size="6.4" text-anchor="middle" fill="#444" class="n">0</text>
<line x1="371.88" y1="325.6" x2="371.88" y2="327.2" stroke="#222" stroke-width="0.7" />
<line x1="377.26" y1="325.6" x2="377.26" y2="328.2" stroke="#222" stroke-width="0.8" />
<text x="377.26" y="320.6" font-size="6.4" text-anchor="middle" fill="#444" class="n">10</text>
<line x1="382.64" y1="325.6" x2="382.64" y2="327.2" stroke="#222" stroke-width="0.7" />
<line x1="388.02" y1="325.6" x2="388.02" y2="328.2" stroke="#222" stroke-width="0.8" />
<text x="388.02" y="320.6" font-size="6.4" text-anchor="middle" fill="#444" class="n">20</text>
<line x1="393.4" y1="325.6" x2="393.4" y2="327.2" stroke="#222" stroke-width="0.7" />
<line x1="398.78" y1="325.6" x2="398.78" y2="328.2" stroke="#222" stroke-width="0.8" />
<text x="398.78" y="320.6" font-size="6.4" text-anchor="middle" fill="#444" class="n">30</text>
<line x1="404.16" y1="325.6" x2="404.16" y2="327.2" stroke="#222" stroke-width="0.7" />
<line x1="409.54" y1="325.6" x2="409.54" y2="328.2" stroke="#222" stroke-width="0.8" />
<text x="409.54" y="320.6" font-size="6.4" text-anchor="middle" fill="#444" class="n">40</text>
<line x1="414.92" y1="325.6" x2="414.92" y2="327.2" stroke="#222" stroke-width="0.7" />
<line x1="420.3" y1="325.6" x2="420.3" y2="328.2" stroke="#222" stroke-width="0.8" />
<text x="420.3" y="320.6" font-size="6.4" text-anchor="middle" fill="#444" class="n">50</text>
<line x1="425.68" y1="325.6" x2="425.68" y2="327.2" stroke="#222" stroke-width="0.7" />
<line x1="431.06" y1="325.6" x2="431.06" y2="328.2" stroke="#222" stroke-width="0.8" />
<text x="431.06" y="320.6" font-size="6.4" text-anchor="middle" fill="#444" class="n">60</text>
<line x1="436.44" y1="325.6" x2="436.44" y2="327.2" stroke="#222" stroke-width="0.7" />
<line x1="441.82" y1="325.6" x2="441.82" y2="328.2" stroke="#222" stroke-width="0.8" />
<text x="441.82" y="320.6" font-size="6.4" text-anchor="middle" fill="#444" class="n">70</text>
<line x1="447.2" y1="325.6" x2="447.2" y2="327.2" stroke="#222" stroke-width="0.7" />
<line x1="452.58" y1="325.6" x2="452.58" y2="328.2" stroke="#222" stroke-width="0.8" />
<text x="452.58" y="320.6" font-size="6.4" text-anchor="middle" fill="#444" class="n">80</text>
<line x1="457.96" y1="325.6" x2="457.96" y2="327.2" stroke="#222" stroke-width="0.7" />
<line x1="463.34" y1="325.6" x2="463.34" y2="328.2" stroke="#222" stroke-width="0.8" />
<text x="463.34" y="320.6" font-size="6.4" text-anchor="middle" fill="#444" class="n">90</text>
<line x1="468.72" y1="325.6" x2="468.72" y2="327.2" stroke="#222" stroke-width="0.7" />
<line x1="474.1" y1="325.6" x2="474.1" y2="328.2" stroke="#222" stroke-width="0.8" />
<text x="474.1" y="320.6" font-size="6.4" text-anchor="middle" fill="#444" class="n">100</text>
<line x1="479.48" y1="325.6" x2="479.48" y2="327.2" stroke="#222" stroke-width="0.7" />
<line x1="484.86" y1="325.6" x2="484.86" y2="328.2" stroke="#222" stroke-width="0.8" />
<text x="484.86" y="320.6" font-size="6.4" text-anchor="middle" fill="#444" class="n">110</text>
<line x1="490.24" y1="325.6" x2="490.24" y2="327.2" stroke="#222" stroke-width="0.7" />
<line x1="495.62" y1="325.6" x2="495.62" y2="328.2" stroke="#222" stroke-width="0.8" />
<text x="495.62" y="320.6" font-size="6.4" text-anchor="middle" fill="#444" class="n">120</text>
<line x1="501" y1="325.6" x2="501" y2="327.2" stroke="#222" stroke-width="0.7" />
<line x1="506.38" y1="325.6" x2="506.38" y2="328.2" stroke="#222" stroke-width="0.8" />
<text x="506.38" y="320.6" font-size="6.4" text-anchor="middle" fill="#444" class="n">130</text>
<line x1="511.76" y1="325.6" x2="511.76" y2="327.2" stroke="#222" stroke-width="0.7" />
<line x1="352.3" y1="330.7" x2="355.3" y2="330.7" stroke="#222" stroke-width="0.9" />
<line x1="510" y1="330.7" x2="512" y2="330.7" stroke="#222" stroke-width="0.7" />
<text x="349.7" y="333" font-size="6.4" text-anchor="end" fill="#444" class="n">0.02</text>
<line x1="352.3" y1="341" x2="355.3" y2="341" stroke="#222" stroke-width="0.9" />
<line x1="510" y1="341" x2="512" y2="341" stroke="#222" stroke-width="0.7" />
<text x="349.7" y="343.3" font-size="6.4" text-anchor="end" fill="#444" class="n">0.00</text>
<line x1="352.3" y1="351.3" x2="355.3" y2="351.3" stroke="#222" stroke-width="0.9" />
<line x1="510" y1="351.3" x2="512" y2="351.3" stroke="#222" stroke-width="0.7" />
<text x="349.7" y="353.6" font-size="6.4" text-anchor="end" fill="#444" class="n">-0.02</text>
<line x1="352.3" y1="361.6" x2="355.3" y2="361.6" stroke="#222" stroke-width="0.9" />
<line x1="510" y1="361.6" x2="512" y2="361.6" stroke="#222" stroke-width="0.7" />
<text x="349.7" y="363.9" font-size="6.4" text-anchor="end" fill="#444" class="n">-0.04</text>
<line x1="352.3" y1="371.9" x2="355.3" y2="371.9" stroke="#222" stroke-width="0.9" />
<line x1="510" y1="371.9" x2="512" y2="371.9" stroke="#222" stroke-width="0.7" />
<text x="349.7" y="374.2" font-size="6.4" text-anchor="end" fill="#444" class="n">-0.06</text>
<line x1="352.3" y1="382.2" x2="355.3" y2="382.2" stroke="#222" stroke-width="0.9" />
<line x1="510" y1="382.2" x2="512" y2="382.2" stroke="#222" stroke-width="0.7" />
<text x="349.7" y="384.5" font-size="6.4" text-anchor="end" fill="#444" class="n">-0.08</text>
<line x1="352.3" y1="392.5" x2="355.3" y2="392.5" stroke="#222" stroke-width="0.9" />
<line x1="510" y1="392.5" x2="512" y2="392.5" stroke="#222" stroke-width="0.7" />
<text x="349.7" y="394.8" font-size="6.4" text-anchor="end" fill="#444" class="n">-0.10</text>
<line x1="352.3" y1="402.8" x2="355.3" y2="402.8" stroke="#222" stroke-width="0.9" />
<line x1="510" y1="402.8" x2="512" y2="402.8" stroke="#222" stroke-width="0.7" />
<text x="349.7" y="405.1" font-size="6.4" text-anchor="end" fill="#444" class="n">-0.12</text>
<line x1="352.3" y1="413.1" x2="355.3" y2="413.1" stroke="#222" stroke-width="0.9" />
<line x1="510" y1="413.1" x2="512" y2="413.1" stroke="#222" stroke-width="0.7" />
<text x="349.7" y="415.4" font-size="6.4" text-anchor="end" fill="#444" class="n">-0.14</text>
<line x1="352.3" y1="423.4" x2="355.3" y2="423.4" stroke="#222" stroke-width="0.9" />
<line x1="510" y1="423.4" x2="512" y2="423.4" stroke="#222" stroke-width="0.7" />
<text x="349.7" y="425.7" font-size="6.4" text-anchor="end" fill="#444" class="n">-0.16</text>
<line x1="352.3" y1="433.7" x2="355.3" y2="433.7" stroke="#222" stroke-width="0.9" />
<line x1="510" y1="433.7" x2="512" y2="433.7" stroke="#222" stroke-width="0.7" />
<text x="349.7" y="436" font-size="6.4" text-anchor="end" fill="#444" class="n">-0.18</text>
<line x1="353.5" y1="335.85" x2="355.3" y2="335.85" stroke="#222" stroke-width="0.7" />
<line x1="510.6" y1="335.85" x2="512" y2="335.85" stroke="#222" stroke-width="0.6" />
<line x1="353.5" y1="346.15" x2="355.3" y2="346.15" stroke="#222" stroke-width="0.7" />
<line x1="510.6" y1="346.15" x2="512" y2="346.15" stroke="#222" stroke-width="0.6" />
<line x1="353.5" y1="356.45" x2="355.3" y2="356.45" stroke="#222" stroke-width="0.7" />
<line x1="510.6" y1="356.45" x2="512" y2="356.45" stroke="#222" stroke-width="0.6" />
<line x1="353.5" y1="366.75" x2="355.3" y2="366.75" stroke="#222" stroke-width="0.7" />
<line x1="510.6" y1="366.75" x2="512" y2="366.75" stroke="#222" stroke-width="0.6" />
<line x1="353.5" y1="377.05" x2="355.3" y2="377.05" stroke="#222" stroke-width="0.7" />
<line x1="510.6" y1="377.05" x2="512" y2="377.05" stroke="#222" stroke-width="0.6" />
<line x1="353.5" y1="387.35" x2="355.3" y2="387.35" stroke="#222" stroke-width="0.7" />
<line x1="510.6" y1="387.35" x2="512" y2="387.35" stroke="#222" stroke-width="0.6" />
<line x1="353.5" y1="397.65" x2="355.3" y2="397.65" stroke="#222" stroke-width="0.7" />
<line x1="510.6" y1="397.65" x2="512" y2="397.65" stroke="#222" stroke-width="0.6" />
<line x1="353.5" y1="407.95" x2="355.3" y2="407.95" stroke="#222" stroke-width="0.7" />
<line x1="510.6" y1="407.95" x2="512" y2="407.95" stroke="#222" stroke-width="0.6" />
<line x1="353.5" y1="418.25" x2="355.3" y2="418.25" stroke="#222" stroke-width="0.7" />
<line x1="510.6" y1="418.25" x2="512" y2="418.25" stroke="#222" stroke-width="0.6" />
<line x1="353.5" y1="428.55" x2="355.3" y2="428.55" stroke="#222" stroke-width="0.7" />
<line x1="510.6" y1="428.55" x2="512" y2="428.55" stroke="#222" stroke-width="0.6" />
<linearGradient id="g325" gradientUnits="userSpaceOnUse" x1="0" y1="341" x2="0" y2="431.12"><stop offset="0" stop-color="#6a6a6a"/><stop offset="1" stop-color="#a8a8a8"/></linearGradient>
<path d="M367.04,338.43 L371.45,341 L371.85,373.44 L372.35,350.73 L373.05,342.95 L374.05,341 L376.83,341 L377.23,431.12 L377.73,368.04 L378.43,346.41 L379.43,341 L382.21,341 L382.61,426.49 L383.11,366.65 L383.81,346.13 L384.81,341 L387.59,341 L387.99,418.25 L388.49,364.18 L389.19,345.63 L390.19,341 L392.97,341 L393.37,410.52 L393.87,361.86 L394.57,345.17 L395.57,341 L398.35,341 L398.75,399.71 L399.25,358.61 L399.95,344.52 L400.95,341 L403.73,341 L404.13,389.93 L404.63,355.68 L405.33,343.94 L406.33,341 L409.11,341 L409.51,380.14 L410.01,352.74 L410.71,343.35 L411.71,341 L414.49,341 L414.89,370.87 L415.39,349.96 L416.09,342.79 L417.09,341 L419.87,341 L420.27,363.66 L420.77,347.8 L421.47,342.36 L422.47,341 L425.25,341 L425.65,358 L426.15,346.1 L426.85,342.02 L427.85,341 L430.63,341 L431.03,354.9 L431.53,345.17 L432.23,341.83 L433.23,341 L436.01,341 L436.41,352.85 L436.91,344.55 L437.61,341.71 L438.61,341 L441.39,341 L441.79,352.33 L442.29,344.4 L442.99,341.68 L443.99,341 L446.77,341 L447.17,351.81 L447.67,344.24 L448.37,341.65 L449.37,341 L452.15,341 L452.55,351.3 L453.05,344.09 L453.75,341.62 L454.75,341 L457.53,341 L457.93,350.79 L458.43,343.94 L459.13,341.59 L460.13,341 L462.91,341 L463.31,350.27 L463.81,343.78 L464.51,341.56 L465.51,341 L468.29,341 L468.69,349.75 L469.19,343.63 L469.89,341.53 L470.89,341 L473.67,341 L474.07,349.75 L474.57,343.63 L475.27,341.53 L476.27,341 L479.05,341 L479.45,349.75 L479.95,343.63 L480.65,341.53 L481.65,341 L484.43,341 L484.83,349.75 L485.33,343.63 L486.03,341.53 L487.03,341 L489.81,341 L490.21,349.24 L490.71,343.47 L491.41,341.49 L492.41,341 L495.62,341" fill="none" stroke="url(#g325)" stroke-width="0.75" stroke-linejoin="round"/>
<line x1="370.95" y1="341" x2="495.62" y2="341" stroke="#333" stroke-width="0.9" />
<path d="M368.45,341 L369.65,339.2 L370.55,340.4 L371.25,339.6 L371.75,341 M373.83,341 L375.03,339.2 L375.93,340.4 L376.63,339.6 L377.13,341 M379.21,341 L380.41,339.2 L381.31,340.4 L382.01,339.6 L382.51,341 M384.59,341 L385.79,339.2 L386.69,340.4 L387.39,339.6 L387.89,341 M389.97,341 L391.17,339.2 L392.07,340.4 L392.77,339.6 L393.27,341 M395.35,341 L396.55,339.2 L397.45,340.4 L398.15,339.6 L398.65,341 M400.73,341 L401.93,339.2 L402.83,340.4 L403.53,339.6 L404.03,341 M406.11,341 L407.31,339.2 L408.21,340.4 L408.91,339.6 L409.41,341 M411.49,341 L412.69,339.2 L413.59,340.4 L414.29,339.6 L414.79,341 M416.87,341 L418.07,339.2 L418.97,340.4 L419.67,339.6 L420.17,341 M422.25,341 L423.45,339.2 L424.35,340.4 L425.05,339.6 L425.55,341 M427.63,341 L428.83,339.2 L429.73,340.4 L430.43,339.6 L430.93,341 M433.01,341 L434.21,339.2 L435.11,340.4 L435.81,339.6 L436.31,341 M438.39,341 L439.59,339.2 L440.49,340.4 L441.19,339.6 L441.69,341 M443.77,341 L444.97,339.2 L445.87,340.4 L446.57,339.6 L447.07,341 M449.15,341 L450.35,339.2 L451.25,340.4 L451.95,339.6 L452.45,341 M454.53,341 L455.73,339.2 L456.63,340.4 L457.33,339.6 L457.83,341 M459.91,341 L461.11,339.2 L462.01,340.4 L462.71,339.6 L463.21,341 M465.29,341 L466.49,339.2 L467.39,340.4 L468.09,339.6 L468.59,341 M470.67,341 L471.87,339.2 L472.77,340.4 L473.47,339.6 L473.97,341 M476.05,341 L477.25,339.2 L478.15,340.4 L478.85,339.6 L479.35,341 M481.43,341 L482.63,339.2 L483.53,340.4 L484.23,339.6 L484.73,341 M486.81,341 L488.01,339.2 L488.91,340.4 L489.61,339.6 L490.11,341" fill="none" stroke="#333" stroke-width="0.8"/>
<line x1="352.3" y1="448.3" x2="355.3" y2="448.3" stroke="#222" stroke-width="0.9" />
<line x1="510" y1="448.3" x2="512" y2="448.3" stroke="#222" stroke-width="0.7" />
<text x="349.7" y="450.6" font-size="6.4" text-anchor="end" fill="#444" class="n">0</text>
<line x1="352.3" y1="465.6" x2="355.3" y2="465.6" stroke="#222" stroke-width="0.9" />
<line x1="510" y1="465.6" x2="512" y2="465.6" stroke="#222" stroke-width="0.7" />
<text x="349.7" y="467.9" font-size="6.4" text-anchor="end" fill="#444" class="n">-10</text>
<line x1="352.3" y1="482.9" x2="355.3" y2="482.9" stroke="#222" stroke-width="0.9" />
<line x1="510" y1="482.9" x2="512" y2="482.9" stroke="#222" stroke-width="0.7" />
<text x="349.7" y="485.2" font-size="6.4" text-anchor="end" fill="#444" class="n">-20</text>
<line x1="352.3" y1="500.2" x2="355.3" y2="500.2" stroke="#222" stroke-width="0.9" />
<line x1="510" y1="500.2" x2="512" y2="500.2" stroke="#222" stroke-width="0.7" />
<text x="349.7" y="502.5" font-size="6.4" text-anchor="end" fill="#444" class="n">-30</text>
<line x1="352.3" y1="517.5" x2="355.3" y2="517.5" stroke="#222" stroke-width="0.9" />
<line x1="510" y1="517.5" x2="512" y2="517.5" stroke="#222" stroke-width="0.7" />
<text x="349.7" y="519.8" font-size="6.4" text-anchor="end" fill="#444" class="n">-40</text>
<line x1="352.3" y1="534.8" x2="355.3" y2="534.8" stroke="#222" stroke-width="0.9" />
<line x1="510" y1="534.8" x2="512" y2="534.8" stroke="#222" stroke-width="0.7" />
<text x="349.7" y="537.1" font-size="6.4" text-anchor="end" fill="#444" class="n">-50</text>
<line x1="352.3" y1="552.1" x2="355.3" y2="552.1" stroke="#222" stroke-width="0.9" />
<line x1="510" y1="552.1" x2="512" y2="552.1" stroke="#222" stroke-width="0.7" />
<text x="349.7" y="554.4" font-size="6.4" text-anchor="end" fill="#444" class="n">-60</text>
<line x1="353.5" y1="456.95" x2="355.3" y2="456.95" stroke="#222" stroke-width="0.7" />
<line x1="510.6" y1="456.95" x2="512" y2="456.95" stroke="#222" stroke-width="0.6" />
<line x1="353.5" y1="474.25" x2="355.3" y2="474.25" stroke="#222" stroke-width="0.7" />
<line x1="510.6" y1="474.25" x2="512" y2="474.25" stroke="#222" stroke-width="0.6" />
<line x1="353.5" y1="491.55" x2="355.3" y2="491.55" stroke="#222" stroke-width="0.7" />
<line x1="510.6" y1="491.55" x2="512" y2="491.55" stroke="#222" stroke-width="0.6" />
<line x1="353.5" y1="508.85" x2="355.3" y2="508.85" stroke="#222" stroke-width="0.7" />
<line x1="510.6" y1="508.85" x2="512" y2="508.85" stroke="#222" stroke-width="0.6" />
<line x1="353.5" y1="526.15" x2="355.3" y2="526.15" stroke="#222" stroke-width="0.7" />
<line x1="510.6" y1="526.15" x2="512" y2="526.15" stroke="#222" stroke-width="0.6" />
<line x1="353.5" y1="543.45" x2="355.3" y2="543.45" stroke="#222" stroke-width="0.7" />
<line x1="510.6" y1="543.45" x2="512" y2="543.45" stroke="#222" stroke-width="0.6" />
<line x1="372.6" y1="552.9" x2="372.6" y2="555.9" stroke="#222" stroke-width="0.9" />
<line x1="372.6" y1="439.2" x2="372.6" y2="441.4" stroke="#222" stroke-width="0.7" />
<text x="372.6" y="564.1" font-size="6.4" text-anchor="middle" fill="#444" class="n">0.0</text>
<line x1="407.1" y1="552.9" x2="407.1" y2="555.9" stroke="#222" stroke-width="0.9" />
<line x1="407.1" y1="439.2" x2="407.1" y2="441.4" stroke="#222" stroke-width="0.7" />
<text x="407.1" y="564.1" font-size="6.4" text-anchor="middle" fill="#444" class="n">0.5</text>
<line x1="441.6" y1="552.9" x2="441.6" y2="555.9" stroke="#222" stroke-width="0.9" />
<line x1="441.6" y1="439.2" x2="441.6" y2="441.4" stroke="#222" stroke-width="0.7" />
<text x="441.6" y="564.1" font-size="6.4" text-anchor="middle" fill="#444" class="n">1.0</text>
<line x1="476.1" y1="552.9" x2="476.1" y2="555.9" stroke="#222" stroke-width="0.9" />
<line x1="476.1" y1="439.2" x2="476.1" y2="441.4" stroke="#222" stroke-width="0.7" />
<text x="476.1" y="564.1" font-size="6.4" text-anchor="middle" fill="#444" class="n">1.5</text>
<line x1="510.6" y1="552.9" x2="510.6" y2="555.9" stroke="#222" stroke-width="0.9" />
<line x1="510.6" y1="439.2" x2="510.6" y2="441.4" stroke="#222" stroke-width="0.7" />
<text x="510.6" y="564.1" font-size="6.4" text-anchor="middle" fill="#444" class="n">2.0</text>
<line x1="389.85" y1="552.9" x2="389.85" y2="554.7" stroke="#222" stroke-width="0.7" />
<line x1="389.85" y1="439.2" x2="389.85" y2="440.6" stroke="#222" stroke-width="0.6" />
<line x1="424.35" y1="552.9" x2="424.35" y2="554.7" stroke="#222" stroke-width="0.7" />
<line x1="424.35" y1="439.2" x2="424.35" y2="440.6" stroke="#222" stroke-width="0.6" />
<line x1="458.85" y1="552.9" x2="458.85" y2="554.7" stroke="#222" stroke-width="0.7" />
<line x1="458.85" y1="439.2" x2="458.85" y2="440.6" stroke="#222" stroke-width="0.6" />
<line x1="493.35" y1="552.9" x2="493.35" y2="554.7" stroke="#222" stroke-width="0.7" />
<line x1="493.35" y1="439.2" x2="493.35" y2="440.6" stroke="#222" stroke-width="0.6" />
<path d="M370,541.5 C370.7,541.18 371.95,541.02 374.2,539.6 C376.45,538.18 380.37,536.43 383.5,533 C386.63,529.57 389.75,524.5 393,519 C396.25,513.5 399.67,507.17 403,500 C406.33,492.83 409.67,482.33 413,476 C416.33,469.67 419.58,465.33 423,462 C426.42,458.67 429.2,457.78 433.5,456 C437.8,454.22 442.72,452.5 448.8,451.3 C454.88,450.1 463.13,449.3 470,448.8 C476.87,448.3 486.67,448.38 490,448.3" fill="none" stroke="#aaa" stroke-width="0.8"/>
<rect x="372.65" y="537.45" width="3.1" height="3.1" fill="#000"/>
<rect x="377.15" y="534.65" width="3.1" height="3.1" fill="#000"/>
<rect x="381.95" y="530.55" width="3.1" height="3.1" fill="#000"/>
<rect x="386.45" y="524.75" width="3.1" height="3.1" fill="#000"/>
<rect x="391.45" y="517.15" width="3.1" height="3.1" fill="#000"/>
<rect x="396.35" y="507.45" width="3.1" height="3.1" fill="#000"/>
<rect x="401.45" y="499.05" width="3.1" height="3.1" fill="#000"/>
<rect x="406.35" y="484.75" width="3.1" height="3.1" fill="#000"/>
<rect x="411.45" y="473.25" width="3.1" height="3.1" fill="#000"/>
<rect x="416.45" y="464.95" width="3.1" height="3.1" fill="#000"/>
<rect x="421.35" y="460.15" width="3.1" height="3.1" fill="#000"/>
<rect x="426.55" y="458.65" width="3.1" height="3.1" fill="#000"/>
<rect x="431.95" y="455.35" width="3.1" height="3.1" fill="#000"/>
<rect x="437.15" y="450.55" width="3.1" height="3.1" fill="#000"/>
<rect x="442.15" y="452.45" width="3.1" height="3.1" fill="#000"/>
<rect x="447.25" y="448.25" width="3.1" height="3.1" fill="#000"/>
<rect x="452.45" y="449.05" width="3.1" height="3.1" fill="#000"/>
<rect x="457.85" y="448.65" width="3.1" height="3.1" fill="#000"/>
<rect x="463.05" y="447.15" width="3.1" height="3.1" fill="#000"/>
<rect x="468.45" y="446.35" width="3.1" height="3.1" fill="#000"/>
<rect x="473.85" y="446.75" width="3.1" height="3.1" fill="#000"/>
<rect x="479.45" y="447.25" width="3.1" height="3.1" fill="#000"/>
<rect x="484.75" y="446.15" width="3.1" height="3.1" fill="#000"/>
<text x="412" y="307.3" font-size="9" text-anchor="start" fill="#2a2a2a" class="n">Time (min)</text>
<text x="410.8" y="577.3" font-size="9.2" text-anchor="start" fill="#2a2a2a" class="n">Molar Ratio</text>
<text transform="translate(327.4,388.7) rotate(-90)" font-size="8.8" text-anchor="middle" fill="#2a2a2a" class="n">µcal/sec</text>
<text transform="translate(334,501) rotate(-90)" font-size="8.1" text-anchor="middle" fill="#2a2a2a" class="n" textLength="82.6" lengthAdjust="spacingAndGlyphs">kcal/mole of injectant</text>
<text x="401.7" y="512.3" font-size="11.1" fill="#111">ΔH = - 55.9 kcal mol<tspan font-size="6" dy="-4">-1</tspan></text>
<text x="401.7" y="525.4" font-size="11.1" fill="#111">ΔS = - 146 cal mol<tspan font-size="6" dy="-4">-1</tspan><tspan dy="4">K</tspan><tspan font-size="6" dy="-4">-1</tspan></text>
<text x="401.7" y="538.5" font-size="11.1" text-anchor="start" fill="#111" >Kd = 40.0 nM</text>
<text x="401.7" y="551.6" font-size="11.1" text-anchor="start" fill="#111" >N = 0.45</text>
<rect x="355.3" y="614.2" width="156.5" height="225.6" fill="none" stroke="#222" stroke-width="1"/>
<line x1="355.3" y1="727.4" x2="511.8" y2="727.4" stroke="#222" stroke-width="1" />
<line x1="355.8" y1="614.2" x2="355.8" y2="616.8" stroke="#222" stroke-width="0.8" />
<text x="355.8" y="609.3" font-size="6.4" text-anchor="middle" fill="#444" class="n">0</text>
<line x1="361.35" y1="614.2" x2="361.35" y2="615.8" stroke="#222" stroke-width="0.7" />
<line x1="366.89" y1="614.2" x2="366.89" y2="616.8" stroke="#222" stroke-width="0.8" />
<text x="366.89" y="609.3" font-size="6.4" text-anchor="middle" fill="#444" class="n">10</text>
<line x1="372.44" y1="614.2" x2="372.44" y2="615.8" stroke="#222" stroke-width="0.7" />
<line x1="377.98" y1="614.2" x2="377.98" y2="616.8" stroke="#222" stroke-width="0.8" />
<text x="377.98" y="609.3" font-size="6.4" text-anchor="middle" fill="#444" class="n">20</text>
<line x1="383.53" y1="614.2" x2="383.53" y2="615.8" stroke="#222" stroke-width="0.7" />
<line x1="389.07" y1="614.2" x2="389.07" y2="616.8" stroke="#222" stroke-width="0.8" />
<text x="389.07" y="609.3" font-size="6.4" text-anchor="middle" fill="#444" class="n">30</text>
<line x1="394.62" y1="614.2" x2="394.62" y2="615.8" stroke="#222" stroke-width="0.7" />
<line x1="400.16" y1="614.2" x2="400.16" y2="616.8" stroke="#222" stroke-width="0.8" />
<text x="400.16" y="609.3" font-size="6.4" text-anchor="middle" fill="#444" class="n">40</text>
<line x1="405.71" y1="614.2" x2="405.71" y2="615.8" stroke="#222" stroke-width="0.7" />
<line x1="411.25" y1="614.2" x2="411.25" y2="616.8" stroke="#222" stroke-width="0.8" />
<text x="411.25" y="609.3" font-size="6.4" text-anchor="middle" fill="#444" class="n">50</text>
<line x1="416.8" y1="614.2" x2="416.8" y2="615.8" stroke="#222" stroke-width="0.7" />
<line x1="422.34" y1="614.2" x2="422.34" y2="616.8" stroke="#222" stroke-width="0.8" />
<text x="422.34" y="609.3" font-size="6.4" text-anchor="middle" fill="#444" class="n">60</text>
<line x1="427.88" y1="614.2" x2="427.88" y2="615.8" stroke="#222" stroke-width="0.7" />
<line x1="433.43" y1="614.2" x2="433.43" y2="616.8" stroke="#222" stroke-width="0.8" />
<text x="433.43" y="609.3" font-size="6.4" text-anchor="middle" fill="#444" class="n">70</text>
<line x1="438.98" y1="614.2" x2="438.98" y2="615.8" stroke="#222" stroke-width="0.7" />
<line x1="444.52" y1="614.2" x2="444.52" y2="616.8" stroke="#222" stroke-width="0.8" />
<text x="444.52" y="609.3" font-size="6.4" text-anchor="middle" fill="#444" class="n">80</text>
<line x1="450.06" y1="614.2" x2="450.06" y2="615.8" stroke="#222" stroke-width="0.7" />
<line x1="455.61" y1="614.2" x2="455.61" y2="616.8" stroke="#222" stroke-width="0.8" />
<text x="455.61" y="609.3" font-size="6.4" text-anchor="middle" fill="#444" class="n">90</text>
<line x1="461.16" y1="614.2" x2="461.16" y2="615.8" stroke="#222" stroke-width="0.7" />
<line x1="466.7" y1="614.2" x2="466.7" y2="616.8" stroke="#222" stroke-width="0.8" />
<text x="466.7" y="609.3" font-size="6.4" text-anchor="middle" fill="#444" class="n">100</text>
<line x1="472.25" y1="614.2" x2="472.25" y2="615.8" stroke="#222" stroke-width="0.7" />
<line x1="477.79" y1="614.2" x2="477.79" y2="616.8" stroke="#222" stroke-width="0.8" />
<text x="477.79" y="609.3" font-size="6.4" text-anchor="middle" fill="#444" class="n">110</text>
<line x1="483.34" y1="614.2" x2="483.34" y2="615.8" stroke="#222" stroke-width="0.7" />
<line x1="488.88" y1="614.2" x2="488.88" y2="616.8" stroke="#222" stroke-width="0.8" />
<text x="488.88" y="609.3" font-size="6.4" text-anchor="middle" fill="#444" class="n">120</text>
<line x1="494.43" y1="614.2" x2="494.43" y2="615.8" stroke="#222" stroke-width="0.7" />
<line x1="499.97" y1="614.2" x2="499.97" y2="616.8" stroke="#222" stroke-width="0.8" />
<text x="499.97" y="609.3" font-size="6.4" text-anchor="middle" fill="#444" class="n">130</text>
<line x1="505.51" y1="614.2" x2="505.51" y2="615.8" stroke="#222" stroke-width="0.7" />
<line x1="511.06" y1="614.2" x2="511.06" y2="616.8" stroke="#222" stroke-width="0.8" />
<text x="511.06" y="609.3" font-size="6.4" text-anchor="middle" fill="#444" class="n">140</text>
<line x1="352.3" y1="613.9" x2="355.3" y2="613.9" stroke="#222" stroke-width="0.9" />
<line x1="509.8" y1="613.9" x2="511.8" y2="613.9" stroke="#222" stroke-width="0.7" />
<text x="349.7" y="616.2" font-size="6.4" text-anchor="end" fill="#444" class="n">0.02</text>
<line x1="352.3" y1="632.9" x2="355.3" y2="632.9" stroke="#222" stroke-width="0.9" />
<line x1="509.8" y1="632.9" x2="511.8" y2="632.9" stroke="#222" stroke-width="0.7" />
<text x="349.7" y="635.2" font-size="6.4" text-anchor="end" fill="#444" class="n">0.00</text>
<line x1="352.3" y1="651.9" x2="355.3" y2="651.9" stroke="#222" stroke-width="0.9" />
<line x1="509.8" y1="651.9" x2="511.8" y2="651.9" stroke="#222" stroke-width="0.7" />
<text x="349.7" y="654.2" font-size="6.4" text-anchor="end" fill="#444" class="n">-0.02</text>
<line x1="352.3" y1="670.9" x2="355.3" y2="670.9" stroke="#222" stroke-width="0.9" />
<line x1="509.8" y1="670.9" x2="511.8" y2="670.9" stroke="#222" stroke-width="0.7" />
<text x="349.7" y="673.2" font-size="6.4" text-anchor="end" fill="#444" class="n">-0.04</text>
<line x1="352.3" y1="689.9" x2="355.3" y2="689.9" stroke="#222" stroke-width="0.9" />
<line x1="509.8" y1="689.9" x2="511.8" y2="689.9" stroke="#222" stroke-width="0.7" />
<text x="349.7" y="692.2" font-size="6.4" text-anchor="end" fill="#444" class="n">-0.06</text>
<line x1="352.3" y1="708.9" x2="355.3" y2="708.9" stroke="#222" stroke-width="0.9" />
<line x1="509.8" y1="708.9" x2="511.8" y2="708.9" stroke="#222" stroke-width="0.7" />
<text x="349.7" y="711.2" font-size="6.4" text-anchor="end" fill="#444" class="n">-0.08</text>
<line x1="352.3" y1="727.9" x2="355.3" y2="727.9" stroke="#222" stroke-width="0.9" />
<line x1="509.8" y1="727.9" x2="511.8" y2="727.9" stroke="#222" stroke-width="0.7" />
<text x="349.7" y="730.2" font-size="6.4" text-anchor="end" fill="#444" class="n">-0.10</text>
<line x1="353.5" y1="623.4" x2="355.3" y2="623.4" stroke="#222" stroke-width="0.7" />
<line x1="510.4" y1="623.4" x2="511.8" y2="623.4" stroke="#222" stroke-width="0.6" />
<line x1="353.5" y1="642.4" x2="355.3" y2="642.4" stroke="#222" stroke-width="0.7" />
<line x1="510.4" y1="642.4" x2="511.8" y2="642.4" stroke="#222" stroke-width="0.6" />
<line x1="353.5" y1="661.4" x2="355.3" y2="661.4" stroke="#222" stroke-width="0.7" />
<line x1="510.4" y1="661.4" x2="511.8" y2="661.4" stroke="#222" stroke-width="0.6" />
<line x1="353.5" y1="680.4" x2="355.3" y2="680.4" stroke="#222" stroke-width="0.7" />
<line x1="510.4" y1="680.4" x2="511.8" y2="680.4" stroke="#222" stroke-width="0.6" />
<line x1="353.5" y1="699.4" x2="355.3" y2="699.4" stroke="#222" stroke-width="0.7" />
<line x1="510.4" y1="699.4" x2="511.8" y2="699.4" stroke="#222" stroke-width="0.6" />
<line x1="353.5" y1="718.4" x2="355.3" y2="718.4" stroke="#222" stroke-width="0.7" />
<line x1="510.4" y1="718.4" x2="511.8" y2="718.4" stroke="#222" stroke-width="0.6" />
<linearGradient id="g614" gradientUnits="userSpaceOnUse" x1="0" y1="632.9" x2="0" y2="708.9"><stop offset="0" stop-color="#6a6a6a"/><stop offset="1" stop-color="#a8a8a8"/></linearGradient>
<path d="M361.35,632.9 L372.77,632.9 L373.17,708.9 L373.67,655.7 L374.37,637.46 L375.37,632.9 L378.32,632.9 L378.72,699.4 L379.22,652.85 L379.92,636.89 L380.92,632.9 L383.88,632.9 L384.28,692.27 L384.78,650.71 L385.48,636.46 L386.48,632.9 L389.44,632.9 L389.84,684.2 L390.34,648.29 L391.04,635.98 L392.04,632.9 L394.99,632.9 L395.39,676.12 L395.89,645.87 L396.59,635.49 L397.59,632.9 L400.55,632.9 L400.95,667.57 L401.45,643.3 L402.15,634.98 L403.15,632.9 L406.1,632.9 L406.5,663.77 L407,642.16 L407.7,634.75 L408.7,632.9 L411.66,632.9 L412.06,659.78 L412.56,640.97 L413.26,634.51 L414.26,632.9 L417.22,632.9 L417.62,654.75 L418.12,639.45 L418.82,634.21 L419.82,632.9 L422.77,632.9 L423.17,653.13 L423.67,638.97 L424.37,634.11 L425.37,632.9 L428.33,632.9 L428.73,652.18 L429.23,638.69 L429.93,634.06 L430.93,632.9 L433.88,632.9 L434.28,650.57 L434.78,638.2 L435.48,633.96 L436.48,632.9 L439.44,632.9 L439.84,648.29 L440.34,637.52 L441.04,633.82 L442.04,632.9 L445,632.9 L445.4,649.05 L445.9,637.75 L446.6,633.87 L447.6,632.9 L450.55,632.9 L450.95,646.67 L451.45,637.03 L452.15,633.73 L453.15,632.9 L456.11,632.9 L456.51,647.34 L457.01,637.23 L457.71,633.77 L458.71,632.9 L461.67,632.9 L462.07,647.34 L462.57,637.23 L463.27,633.77 L464.27,632.9 L467.22,632.9 L467.62,646.67 L468.12,637.03 L468.82,633.73 L469.82,632.9 L472.78,632.9 L473.18,646.96 L473.68,637.12 L474.38,633.74 L475.38,632.9 L478.33,632.9 L478.73,647.34 L479.23,637.23 L479.93,633.77 L480.93,632.9 L483.89,632.9 L484.29,647.34 L484.79,637.23 L485.49,633.77 L486.49,632.9 L489.45,632.9 L489.85,645.73 L490.35,636.75 L491.05,633.67 L492.05,632.9 L495,632.9 L495.4,645.73 L495.9,636.75 L496.6,633.67 L497.6,632.9 L497.75,632.9" fill="none" stroke="url(#g614)" stroke-width="0.75" stroke-linejoin="round"/>
<line x1="372.27" y1="632.9" x2="497.75" y2="632.9" stroke="#333" stroke-width="0.9" />
<path d="M369.77,632.9 L370.97,631.1 L371.87,632.3 L372.57,631.5 L373.07,632.9 M375.32,632.9 L376.52,631.1 L377.42,632.3 L378.12,631.5 L378.62,632.9 M380.88,632.9 L382.08,631.1 L382.98,632.3 L383.68,631.5 L384.18,632.9 M386.44,632.9 L387.64,631.1 L388.54,632.3 L389.24,631.5 L389.74,632.9 M391.99,632.9 L393.19,631.1 L394.09,632.3 L394.79,631.5 L395.29,632.9 M397.55,632.9 L398.75,631.1 L399.65,632.3 L400.35,631.5 L400.85,632.9 M403.1,632.9 L404.3,631.1 L405.2,632.3 L405.9,631.5 L406.4,632.9 M408.66,632.9 L409.86,631.1 L410.76,632.3 L411.46,631.5 L411.96,632.9 M414.22,632.9 L415.42,631.1 L416.32,632.3 L417.02,631.5 L417.52,632.9 M419.77,632.9 L420.97,631.1 L421.87,632.3 L422.57,631.5 L423.07,632.9 M425.33,632.9 L426.53,631.1 L427.43,632.3 L428.13,631.5 L428.63,632.9 M430.88,632.9 L432.08,631.1 L432.98,632.3 L433.68,631.5 L434.18,632.9 M436.44,632.9 L437.64,631.1 L438.54,632.3 L439.24,631.5 L439.74,632.9 M442,632.9 L443.2,631.1 L444.1,632.3 L444.8,631.5 L445.3,632.9 M447.55,632.9 L448.75,631.1 L449.65,632.3 L450.35,631.5 L450.85,632.9 M453.11,632.9 L454.31,631.1 L455.21,632.3 L455.91,631.5 L456.41,632.9 M458.67,632.9 L459.87,631.1 L460.77,632.3 L461.47,631.5 L461.97,632.9 M464.22,632.9 L465.42,631.1 L466.32,632.3 L467.02,631.5 L467.52,632.9 M469.78,632.9 L470.98,631.1 L471.88,632.3 L472.58,631.5 L473.08,632.9 M475.33,632.9 L476.53,631.1 L477.43,632.3 L478.13,631.5 L478.63,632.9 M480.89,632.9 L482.09,631.1 L482.99,632.3 L483.69,631.5 L484.19,632.9 M486.45,632.9 L487.65,631.1 L488.55,632.3 L489.25,631.5 L489.75,632.9 M492,632.9 L493.2,631.1 L494.1,632.3 L494.8,631.5 L495.3,632.9" fill="none" stroke="#333" stroke-width="0.8"/>
<line x1="352.3" y1="740.8" x2="355.3" y2="740.8" stroke="#222" stroke-width="0.9" />
<line x1="509.8" y1="740.8" x2="511.8" y2="740.8" stroke="#222" stroke-width="0.7" />
<text x="349.7" y="743.1" font-size="6.4" text-anchor="end" fill="#444" class="n">0</text>
<line x1="352.3" y1="762.1" x2="355.3" y2="762.1" stroke="#222" stroke-width="0.9" />
<line x1="509.8" y1="762.1" x2="511.8" y2="762.1" stroke="#222" stroke-width="0.7" />
<text x="349.7" y="764.4" font-size="6.4" text-anchor="end" fill="#444" class="n">-5</text>
<line x1="352.3" y1="783.4" x2="355.3" y2="783.4" stroke="#222" stroke-width="0.9" />
<line x1="509.8" y1="783.4" x2="511.8" y2="783.4" stroke="#222" stroke-width="0.7" />
<text x="349.7" y="785.7" font-size="6.4" text-anchor="end" fill="#444" class="n">-10</text>
<line x1="352.3" y1="804.7" x2="355.3" y2="804.7" stroke="#222" stroke-width="0.9" />
<line x1="509.8" y1="804.7" x2="511.8" y2="804.7" stroke="#222" stroke-width="0.7" />
<text x="349.7" y="807" font-size="6.4" text-anchor="end" fill="#444" class="n">-15</text>
<line x1="352.3" y1="826" x2="355.3" y2="826" stroke="#222" stroke-width="0.9" />
<line x1="509.8" y1="826" x2="511.8" y2="826" stroke="#222" stroke-width="0.7" />
<text x="349.7" y="828.3" font-size="6.4" text-anchor="end" fill="#444" class="n">-20</text>
<line x1="353.5" y1="751.45" x2="355.3" y2="751.45" stroke="#222" stroke-width="0.7" />
<line x1="510.4" y1="751.45" x2="511.8" y2="751.45" stroke="#222" stroke-width="0.6" />
<line x1="353.5" y1="772.75" x2="355.3" y2="772.75" stroke="#222" stroke-width="0.7" />
<line x1="510.4" y1="772.75" x2="511.8" y2="772.75" stroke="#222" stroke-width="0.6" />
<line x1="353.5" y1="794.05" x2="355.3" y2="794.05" stroke="#222" stroke-width="0.7" />
<line x1="510.4" y1="794.05" x2="511.8" y2="794.05" stroke="#222" stroke-width="0.6" />
<line x1="353.5" y1="815.35" x2="355.3" y2="815.35" stroke="#222" stroke-width="0.7" />
<line x1="510.4" y1="815.35" x2="511.8" y2="815.35" stroke="#222" stroke-width="0.6" />
<line x1="365.6" y1="839.8" x2="365.6" y2="842.8" stroke="#222" stroke-width="0.9" />
<line x1="365.6" y1="727.4" x2="365.6" y2="729.6" stroke="#222" stroke-width="0.7" />
<text x="365.6" y="850.6" font-size="6.4" text-anchor="middle" fill="#444" class="n">0.0</text>
<line x1="462.7" y1="839.8" x2="462.7" y2="842.8" stroke="#222" stroke-width="0.9" />
<line x1="462.7" y1="727.4" x2="462.7" y2="729.6" stroke="#222" stroke-width="0.7" />
<text x="462.7" y="850.6" font-size="6.4" text-anchor="middle" fill="#444" class="n">0.5</text>
<line x1="414.15" y1="839.8" x2="414.15" y2="841.6" stroke="#222" stroke-width="0.7" />
<line x1="414.15" y1="727.4" x2="414.15" y2="728.8" stroke="#222" stroke-width="0.6" />
<path d="M367,831 C367.78,829.83 369.22,828.67 371.7,824 C374.18,819.33 378.55,810.17 381.9,803 C385.25,795.83 388.45,787.33 391.8,781 C395.15,774.67 398.53,769.5 402,765 C405.47,760.5 408.27,757.17 412.6,754 C416.93,750.83 421.9,747.92 428,746 C434.1,744.08 442.2,743.25 449.2,742.5 C456.2,741.75 461.7,741.75 470,741.5 C478.3,741.25 494.17,741.08 499,741" fill="none" stroke="#aaa" stroke-width="0.8"/>
<rect x="370.15" y="825.15" width="3.1" height="3.1" fill="#000"/>
<rect x="375.15" y="814.05" width="3.1" height="3.1" fill="#000"/>
<rect x="380.35" y="802.45" width="3.1" height="3.1" fill="#000"/>
<rect x="385.55" y="791.35" width="3.1" height="3.1" fill="#000"/>
<rect x="390.25" y="777.65" width="3.1" height="3.1" fill="#000"/>
<rect x="395.35" y="771.05" width="3.1" height="3.1" fill="#000"/>
<rect x="400.45" y="763.35" width="3.1" height="3.1" fill="#000"/>
<rect x="405.85" y="756.15" width="3.1" height="3.1" fill="#000"/>
<rect x="411.05" y="754.15" width="3.1" height="3.1" fill="#000"/>
<rect x="416.15" y="746.95" width="3.1" height="3.1" fill="#000"/>
<rect x="421.25" y="746.65" width="3.1" height="3.1" fill="#000"/>
<rect x="426.45" y="745.65" width="3.1" height="3.1" fill="#000"/>
<rect x="431.95" y="737.95" width="3.1" height="3.1" fill="#000"/>
<rect x="437.35" y="742.25" width="3.1" height="3.1" fill="#000"/>
<rect x="442.25" y="738.45" width="3.1" height="3.1" fill="#000"/>
<rect x="447.65" y="737.25" width="3.1" height="3.1" fill="#000"/>
<rect x="453.05" y="737.25" width="3.1" height="3.1" fill="#000"/>
<rect x="458.75" y="742.75" width="3.1" height="3.1" fill="#000"/>
<rect x="463.85" y="739.95" width="3.1" height="3.1" fill="#000"/>
<rect x="469.45" y="741.95" width="3.1" height="3.1" fill="#000"/>
<rect x="475.15" y="739.95" width="3.1" height="3.1" fill="#000"/>
<rect x="480.55" y="735.35" width="3.1" height="3.1" fill="#000"/>
<rect x="486.15" y="734.75" width="3.1" height="3.1" fill="#000"/>
<text x="412" y="597.6" font-size="9" text-anchor="start" fill="#2a2a2a" class="n">Time (min)</text>
<text x="410.8" y="865.6" font-size="9.2" text-anchor="start" fill="#2a2a2a" class="n">Molar Ratio</text>
<text transform="translate(328,676.4) rotate(-90)" font-size="8.8" text-anchor="middle" fill="#2a2a2a" class="n">µcal/sec</text>
<text transform="translate(334,789.5) rotate(-90)" font-size="8.1" text-anchor="middle" fill="#2a2a2a" class="n" textLength="82.6" lengthAdjust="spacingAndGlyphs">kcal/mole of injectant</text>
<text x="395.4" y="797.7" font-size="11.1" fill="#111">ΔH = - 24.86 kcal mol<tspan font-size="6" dy="-4">-1</tspan></text>
<text x="395.4" y="810.7" font-size="11.1" fill="#111">ΔS = - 47.5 cal mol<tspan font-size="6" dy="-4">-1</tspan><tspan dy="4">K</tspan><tspan font-size="6" dy="-4">-1</tspan></text>
<text x="395.4" y="823.7" font-size="11.1" text-anchor="start" fill="#111" >Kd = 74.6 nM</text>
<text x="395.4" y="836.7" font-size="11.1" text-anchor="start" fill="#111" >N = 0.121</text>
</svg>
</body></html>
